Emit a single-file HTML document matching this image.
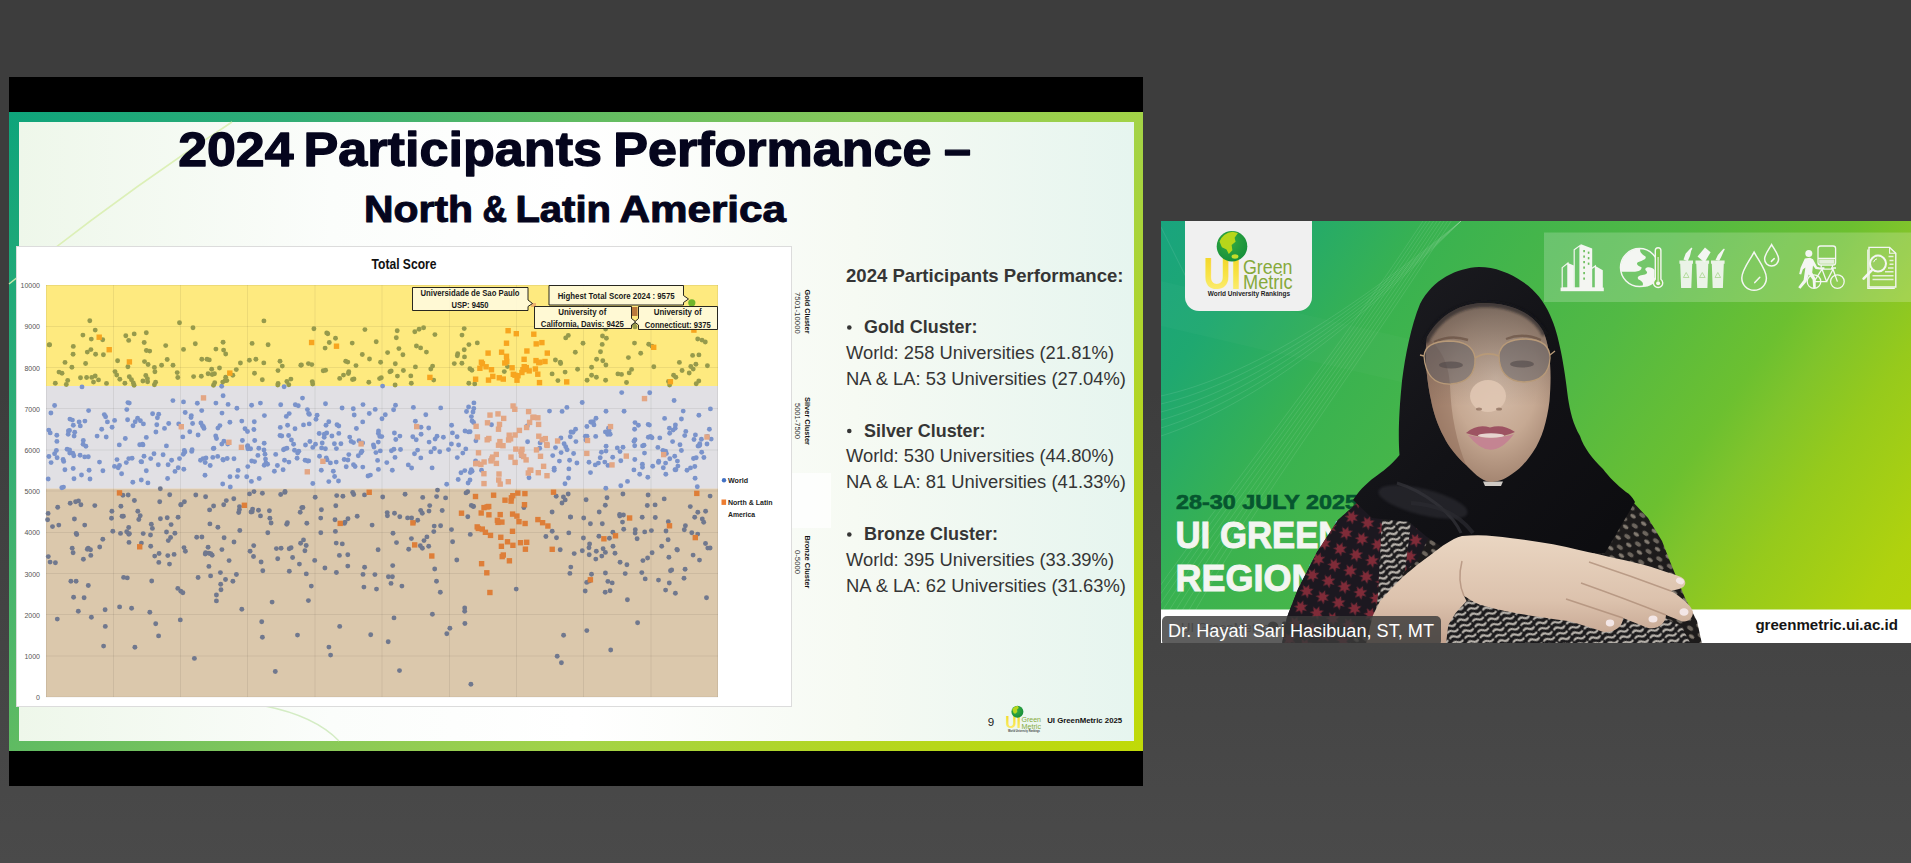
<!DOCTYPE html>
<html lang="en">
<head>
<meta charset="utf-8">
<title>UI GreenMetric 2025 - Meeting</title>
<style>
  html,body{margin:0;padding:0;}
  body{width:1911px;height:863px;overflow:hidden;position:relative;
       background:linear-gradient(to bottom,#3d3d3d 0%,#3d3d3d 45%,#4a4a4a 100%);
       font-family:"Liberation Sans",sans-serif;}
  .abs{position:absolute;}
  #share{left:9px;top:77px;width:1134px;height:709px;background:#000;}
  #frame{left:0;top:35px;width:1134px;height:639px;
         background:linear-gradient(131.7deg,#0ea47b 0%,#30ad76 16.7%,#5fbb62 33.4%,#86c85a 50%,#a3d347 66.6%,#b4d620 83.3%,#c0da08 100%);}
  #paper{left:10px;top:10px;width:1115px;height:619px;
         background:linear-gradient(to right,#eef7ea 0%,#fbfdfb 28%,#ffffff 50%,#f6faf3 75%,#e6f5ef 100%);overflow:hidden;}
  #slidesvg{left:0;top:0;}
  #video{left:1161px;top:221px;width:750px;height:422px;overflow:hidden;
         background:#3aa;}
</style>
</head>
<body>

<!-- ================= shared screen ================= -->
<div id="share" class="abs">
  <div id="frame" class="abs">
    <div id="paper" class="abs"></div>
  </div>
</div>

<!-- slide content drawn in page coordinates -->
<svg id="slidesvg" class="abs" width="1150" height="800" viewBox="0 0 1150 800" font-family="Liberation Sans, sans-serif">
  <!-- decorative swooshes -->
  <path d="M9 284 Q120 195 232 122" stroke="#d9eeb0" stroke-width="1.5" fill="none" opacity=".9"/>
  <path d="M265 706 Q315 716 339 741" stroke="#d4ecc4" stroke-width="1.4" fill="none"/>

  <!-- titles -->
  <g id="title1">
    <text x="178.2" y="166" font-size="48" font-weight="700" fill="#05051d" stroke="#05051d" stroke-width="1.3" stroke-linejoin="round" textLength="115.3" lengthAdjust="spacingAndGlyphs">2024</text>
    <text x="303.5" y="166" font-size="48" font-weight="700" fill="#05051d" stroke="#05051d" stroke-width="1.3" stroke-linejoin="round" textLength="298.5" lengthAdjust="spacingAndGlyphs">Participants</text>
    <text x="613.3" y="166" font-size="48" font-weight="700" fill="#05051d" stroke="#05051d" stroke-width="1.3" stroke-linejoin="round" textLength="318.2" lengthAdjust="spacingAndGlyphs">Performance</text>
    <text x="944.0" y="166" font-size="48" font-weight="700" fill="#05051d" stroke="#05051d" stroke-width="1.3" stroke-linejoin="round" textLength="27.0" lengthAdjust="spacingAndGlyphs">–</text>
  </g>
  <g id="title2">
    <text x="364.0" y="221.5" font-size="37" font-weight="700" fill="#05051d" stroke="#05051d" stroke-width="1.0" stroke-linejoin="round" textLength="109.0" lengthAdjust="spacingAndGlyphs">North</text>
    <text x="482.6" y="221.5" font-size="37" font-weight="700" fill="#05051d" stroke="#05051d" stroke-width="1.0" stroke-linejoin="round" textLength="24.4" lengthAdjust="spacingAndGlyphs">&amp;</text>
    <text x="515.4" y="221.5" font-size="37" font-weight="700" fill="#05051d" stroke="#05051d" stroke-width="1.0" stroke-linejoin="round" textLength="95.6" lengthAdjust="spacingAndGlyphs">Latin</text>
    <text x="619.5" y="221.5" font-size="37" font-weight="700" fill="#05051d" stroke="#05051d" stroke-width="1.0" stroke-linejoin="round" textLength="166.5" lengthAdjust="spacingAndGlyphs">America</text>
  </g>

  <!-- chart card -->
  <rect x="16.5" y="246.5" width="775" height="460" fill="#ffffff" stroke="#dcdcdc" stroke-width="1"/>
  <!-- bands -->
  <rect x="46" y="285" width="672" height="101" fill="#feea7f"/>
  <rect x="46" y="386" width="672" height="102.5" fill="#e1e0e4"/>
  <rect x="46" y="488.5" width="672" height="208.5" fill="#dbc8ac"/>
  <!-- grid -->
  <g stroke="#000" stroke-opacity=".065" stroke-width="1" fill="none">
    <path d="M46 285.5H718M46 326.5H718M46 367.5H718M46 408.5H718M46 450H718M46 491H718M46 532.5H718M46 573.5H718M46 614.5H718M46 656H718M46 697H718"/>
    <path d="M46.5 285V697M113.5 285V697M180.5 285V697M247.5 285V697M315 285V697M382 285V697M449.5 285V697M516.5 285V697M583.5 285V697M651 285V697M717.5 285V697"/>
  </g>
  <!-- y axis labels -->
  <g font-size="7" fill="#555" text-anchor="end">
    <text x="40" y="288">10000</text><text x="40" y="329">9000</text><text x="40" y="370.5">8000</text>
    <text x="40" y="411.5">7000</text><text x="40" y="453">6000</text><text x="40" y="494">5000</text>
    <text x="40" y="535">4000</text><text x="40" y="576.5">3000</text><text x="40" y="617.5">2000</text>
    <text x="40" y="659">1000</text><text x="40" y="700">0</text>
  </g>
  <text x="404" y="269" text-anchor="middle" font-size="15.4" font-weight="700" fill="#111" textLength="65" lengthAdjust="spacingAndGlyphs">Total Score</text>

  <!-- scatter -->
  <g id="scatter">
<circle cx="262.3" cy="379.7" r="2.45" fill="#969a4c"/>
<circle cx="403.4" cy="370.5" r="2.45" fill="#969a4c"/>
<circle cx="85.6" cy="363.5" r="2.45" fill="#969a4c"/>
<circle cx="71.9" cy="367.3" r="2.45" fill="#969a4c"/>
<circle cx="93.5" cy="382.1" r="2.45" fill="#969a4c"/>
<circle cx="329.3" cy="342.5" r="2.45" fill="#969a4c"/>
<circle cx="129.3" cy="376.8" r="2.45" fill="#969a4c"/>
<circle cx="464.2" cy="328.6" r="2.45" fill="#969a4c"/>
<circle cx="430.8" cy="369.0" r="2.45" fill="#969a4c"/>
<circle cx="696.2" cy="383.8" r="2.45" fill="#969a4c"/>
<circle cx="617.9" cy="373.9" r="2.45" fill="#969a4c"/>
<circle cx="142.9" cy="381.0" r="2.45" fill="#969a4c"/>
<circle cx="252.1" cy="343.4" r="2.45" fill="#969a4c"/>
<circle cx="167.2" cy="359.5" r="2.45" fill="#969a4c"/>
<circle cx="471.9" cy="370.2" r="2.45" fill="#969a4c"/>
<circle cx="411.3" cy="383.2" r="2.45" fill="#969a4c"/>
<circle cx="86.6" cy="377.5" r="2.45" fill="#969a4c"/>
<circle cx="255.9" cy="359.2" r="2.45" fill="#969a4c"/>
<circle cx="348.4" cy="373.5" r="2.45" fill="#969a4c"/>
<circle cx="575.3" cy="352.2" r="2.45" fill="#969a4c"/>
<circle cx="209.3" cy="359.9" r="2.45" fill="#969a4c"/>
<circle cx="396.3" cy="337.8" r="2.45" fill="#969a4c"/>
<circle cx="698.8" cy="381.0" r="2.45" fill="#969a4c"/>
<circle cx="325.1" cy="348.1" r="2.45" fill="#969a4c"/>
<circle cx="148.1" cy="364.5" r="2.45" fill="#969a4c"/>
<circle cx="73.1" cy="354.2" r="2.45" fill="#969a4c"/>
<circle cx="555.4" cy="360.0" r="2.45" fill="#969a4c"/>
<circle cx="629.2" cy="372.9" r="2.45" fill="#969a4c"/>
<circle cx="432.6" cy="366.1" r="2.45" fill="#969a4c"/>
<circle cx="605.6" cy="329.1" r="2.45" fill="#969a4c"/>
<circle cx="362.3" cy="354.5" r="2.45" fill="#969a4c"/>
<circle cx="87.3" cy="352.1" r="2.45" fill="#969a4c"/>
<circle cx="477.3" cy="342.9" r="2.45" fill="#969a4c"/>
<circle cx="236.3" cy="369.6" r="2.45" fill="#969a4c"/>
<circle cx="354.0" cy="379.0" r="2.45" fill="#969a4c"/>
<circle cx="124.9" cy="383.3" r="2.45" fill="#969a4c"/>
<circle cx="557.9" cy="380.6" r="2.45" fill="#969a4c"/>
<circle cx="211.7" cy="369.3" r="2.45" fill="#969a4c"/>
<circle cx="626.5" cy="382.5" r="2.45" fill="#969a4c"/>
<circle cx="345.7" cy="361.3" r="2.45" fill="#969a4c"/>
<circle cx="634.5" cy="343.1" r="2.45" fill="#969a4c"/>
<circle cx="621.5" cy="374.4" r="2.45" fill="#969a4c"/>
<circle cx="323.2" cy="370.8" r="2.45" fill="#969a4c"/>
<circle cx="635.0" cy="326.9" r="2.45" fill="#969a4c"/>
<circle cx="147.4" cy="378.7" r="2.45" fill="#969a4c"/>
<circle cx="201.3" cy="376.3" r="2.45" fill="#969a4c"/>
<circle cx="369.5" cy="359.0" r="2.45" fill="#969a4c"/>
<circle cx="221.7" cy="386.2" r="2.45" fill="#7a93cb"/>
<circle cx="325.6" cy="370.3" r="2.45" fill="#969a4c"/>
<circle cx="423.6" cy="327.7" r="2.45" fill="#969a4c"/>
<circle cx="457.7" cy="353.7" r="2.45" fill="#969a4c"/>
<circle cx="82.9" cy="335.1" r="2.45" fill="#969a4c"/>
<circle cx="565.7" cy="337.9" r="2.45" fill="#969a4c"/>
<circle cx="577.6" cy="369.3" r="2.45" fill="#969a4c"/>
<circle cx="312.3" cy="381.6" r="2.45" fill="#969a4c"/>
<circle cx="468.8" cy="383.2" r="2.45" fill="#969a4c"/>
<circle cx="91.8" cy="377.4" r="2.45" fill="#969a4c"/>
<circle cx="154.9" cy="371.7" r="2.45" fill="#969a4c"/>
<circle cx="82.0" cy="386.9" r="2.45" fill="#7a93cb"/>
<circle cx="147.6" cy="381.7" r="2.45" fill="#969a4c"/>
<circle cx="288.8" cy="384.7" r="2.45" fill="#969a4c"/>
<circle cx="628.4" cy="357.6" r="2.45" fill="#969a4c"/>
<circle cx="145.8" cy="375.5" r="2.45" fill="#969a4c"/>
<circle cx="278.0" cy="370.6" r="2.45" fill="#969a4c"/>
<circle cx="128.7" cy="340.4" r="2.45" fill="#969a4c"/>
<circle cx="707.4" cy="365.7" r="2.45" fill="#969a4c"/>
<circle cx="368.8" cy="382.3" r="2.45" fill="#969a4c"/>
<circle cx="115.0" cy="371.6" r="2.45" fill="#969a4c"/>
<circle cx="223.1" cy="342.3" r="2.45" fill="#969a4c"/>
<circle cx="154.4" cy="384.8" r="2.45" fill="#969a4c"/>
<circle cx="679.4" cy="362.4" r="2.45" fill="#969a4c"/>
<circle cx="144.5" cy="361.6" r="2.45" fill="#969a4c"/>
<circle cx="65.0" cy="362.4" r="2.45" fill="#969a4c"/>
<circle cx="697.7" cy="339.0" r="2.45" fill="#969a4c"/>
<circle cx="290.9" cy="379.1" r="2.45" fill="#969a4c"/>
<circle cx="560.3" cy="362.2" r="2.45" fill="#969a4c"/>
<circle cx="565.1" cy="372.1" r="2.45" fill="#969a4c"/>
<circle cx="195.3" cy="343.8" r="2.45" fill="#969a4c"/>
<circle cx="702.0" cy="340.1" r="2.45" fill="#969a4c"/>
<circle cx="583.0" cy="343.2" r="2.45" fill="#969a4c"/>
<circle cx="391.2" cy="371.0" r="2.45" fill="#969a4c"/>
<circle cx="66.3" cy="384.5" r="2.45" fill="#969a4c"/>
<circle cx="232.8" cy="375.2" r="2.45" fill="#969a4c"/>
<circle cx="507.5" cy="366.6" r="2.45" fill="#969a4c"/>
<circle cx="670.1" cy="319.8" r="2.45" fill="#969a4c"/>
<circle cx="682.1" cy="370.5" r="2.45" fill="#969a4c"/>
<circle cx="193.6" cy="376.6" r="2.45" fill="#969a4c"/>
<circle cx="177.8" cy="377.5" r="2.45" fill="#969a4c"/>
<circle cx="462.0" cy="335.1" r="2.45" fill="#969a4c"/>
<circle cx="605.9" cy="365.0" r="2.45" fill="#969a4c"/>
<circle cx="103.4" cy="354.7" r="2.45" fill="#969a4c"/>
<circle cx="652.0" cy="346.2" r="2.45" fill="#969a4c"/>
<circle cx="165.7" cy="345.6" r="2.45" fill="#969a4c"/>
<circle cx="268.1" cy="344.7" r="2.45" fill="#969a4c"/>
<circle cx="693.2" cy="369.1" r="2.45" fill="#969a4c"/>
<circle cx="313.9" cy="328.8" r="2.45" fill="#969a4c"/>
<circle cx="131.5" cy="379.7" r="2.45" fill="#969a4c"/>
<circle cx="648.7" cy="344.2" r="2.45" fill="#969a4c"/>
<circle cx="144.2" cy="342.5" r="2.45" fill="#969a4c"/>
<circle cx="698.9" cy="354.9" r="2.45" fill="#969a4c"/>
<circle cx="280.0" cy="361.3" r="2.45" fill="#969a4c"/>
<circle cx="134.1" cy="385.3" r="2.45" fill="#969a4c"/>
<circle cx="692.6" cy="355.4" r="2.45" fill="#969a4c"/>
<circle cx="397.2" cy="330.8" r="2.45" fill="#969a4c"/>
<circle cx="335.5" cy="338.2" r="2.45" fill="#969a4c"/>
<circle cx="596.4" cy="377.3" r="2.45" fill="#969a4c"/>
<circle cx="214.5" cy="373.8" r="2.45" fill="#969a4c"/>
<circle cx="207.0" cy="359.2" r="2.45" fill="#969a4c"/>
<circle cx="219.5" cy="368.0" r="2.45" fill="#969a4c"/>
<circle cx="134.2" cy="333.9" r="2.45" fill="#969a4c"/>
<circle cx="282.3" cy="366.1" r="2.45" fill="#969a4c"/>
<circle cx="434.9" cy="334.6" r="2.45" fill="#969a4c"/>
<circle cx="326.7" cy="332.9" r="2.45" fill="#969a4c"/>
<circle cx="380.6" cy="362.2" r="2.45" fill="#969a4c"/>
<circle cx="395.1" cy="385.0" r="2.45" fill="#969a4c"/>
<circle cx="339.7" cy="378.4" r="2.45" fill="#969a4c"/>
<circle cx="49.6" cy="344.8" r="2.45" fill="#969a4c"/>
<circle cx="161.6" cy="365.3" r="2.45" fill="#969a4c"/>
<circle cx="263.8" cy="362.9" r="2.45" fill="#969a4c"/>
<circle cx="416.4" cy="346.0" r="2.45" fill="#969a4c"/>
<circle cx="117.6" cy="360.7" r="2.45" fill="#969a4c"/>
<circle cx="212.2" cy="374.5" r="2.45" fill="#969a4c"/>
<circle cx="560.6" cy="363.5" r="2.45" fill="#969a4c"/>
<circle cx="420.6" cy="347.9" r="2.45" fill="#969a4c"/>
<circle cx="653.8" cy="366.8" r="2.45" fill="#969a4c"/>
<circle cx="454.3" cy="363.6" r="2.45" fill="#969a4c"/>
<circle cx="387.6" cy="352.6" r="2.45" fill="#969a4c"/>
<circle cx="347.8" cy="362.1" r="2.45" fill="#969a4c"/>
<circle cx="364.9" cy="329.6" r="2.45" fill="#969a4c"/>
<circle cx="673.6" cy="375.2" r="2.45" fill="#969a4c"/>
<circle cx="419.1" cy="329.3" r="2.45" fill="#969a4c"/>
<circle cx="605.6" cy="380.3" r="2.45" fill="#969a4c"/>
<circle cx="127.9" cy="366.8" r="2.45" fill="#969a4c"/>
<circle cx="95.2" cy="376.0" r="2.45" fill="#969a4c"/>
<circle cx="95.6" cy="354.2" r="2.45" fill="#969a4c"/>
<circle cx="568.3" cy="335.4" r="2.45" fill="#969a4c"/>
<circle cx="149.7" cy="351.1" r="2.45" fill="#969a4c"/>
<circle cx="634.1" cy="325.1" r="2.45" fill="#969a4c"/>
<circle cx="193.0" cy="327.8" r="2.45" fill="#969a4c"/>
<circle cx="311.8" cy="364.6" r="2.45" fill="#969a4c"/>
<circle cx="705.3" cy="342.0" r="2.45" fill="#969a4c"/>
<circle cx="154.4" cy="367.4" r="2.45" fill="#969a4c"/>
<circle cx="389.9" cy="371.7" r="2.45" fill="#969a4c"/>
<circle cx="177.2" cy="372.6" r="2.45" fill="#969a4c"/>
<circle cx="415.4" cy="366.9" r="2.45" fill="#969a4c"/>
<circle cx="59.0" cy="372.1" r="2.45" fill="#969a4c"/>
<circle cx="461.9" cy="363.3" r="2.45" fill="#969a4c"/>
<circle cx="89.8" cy="320.8" r="2.45" fill="#969a4c"/>
<circle cx="571.3" cy="324.2" r="2.45" fill="#969a4c"/>
<circle cx="116.7" cy="375.0" r="2.45" fill="#969a4c"/>
<circle cx="73.3" cy="346.4" r="2.45" fill="#969a4c"/>
<circle cx="226.8" cy="380.6" r="2.45" fill="#969a4c"/>
<circle cx="327.8" cy="333.7" r="2.45" fill="#969a4c"/>
<circle cx="591.6" cy="375.3" r="2.45" fill="#969a4c"/>
<circle cx="146.3" cy="332.7" r="2.45" fill="#969a4c"/>
<circle cx="426.4" cy="352.1" r="2.45" fill="#969a4c"/>
<circle cx="106.5" cy="383.4" r="2.45" fill="#969a4c"/>
<circle cx="95.2" cy="330.1" r="2.45" fill="#969a4c"/>
<circle cx="468.9" cy="344.6" r="2.45" fill="#969a4c"/>
<circle cx="102.7" cy="339.7" r="2.45" fill="#969a4c"/>
<circle cx="91.3" cy="339.1" r="2.45" fill="#969a4c"/>
<circle cx="348.8" cy="371.7" r="2.45" fill="#969a4c"/>
<circle cx="414.8" cy="331.7" r="2.45" fill="#969a4c"/>
<circle cx="225.1" cy="380.6" r="2.45" fill="#969a4c"/>
<circle cx="397.4" cy="376.1" r="2.45" fill="#969a4c"/>
<circle cx="119.8" cy="379.3" r="2.45" fill="#969a4c"/>
<circle cx="80.5" cy="377.7" r="2.45" fill="#969a4c"/>
<circle cx="254.5" cy="373.2" r="2.45" fill="#969a4c"/>
<circle cx="552.1" cy="373.9" r="2.45" fill="#969a4c"/>
<circle cx="379.6" cy="378.6" r="2.45" fill="#969a4c"/>
<circle cx="277.8" cy="385.1" r="2.45" fill="#969a4c"/>
<circle cx="213.5" cy="385.2" r="2.45" fill="#969a4c"/>
<circle cx="173.0" cy="365.2" r="2.45" fill="#969a4c"/>
<circle cx="668.5" cy="381.5" r="2.45" fill="#969a4c"/>
<circle cx="591.6" cy="367.3" r="2.45" fill="#969a4c"/>
<circle cx="376.2" cy="341.8" r="2.45" fill="#969a4c"/>
<circle cx="308.4" cy="363.6" r="2.45" fill="#969a4c"/>
<circle cx="504.3" cy="371.6" r="2.45" fill="#969a4c"/>
<circle cx="600.5" cy="351.7" r="2.45" fill="#969a4c"/>
<circle cx="469.9" cy="368.7" r="2.45" fill="#969a4c"/>
<circle cx="278.1" cy="383.5" r="2.45" fill="#969a4c"/>
<circle cx="133.3" cy="382.9" r="2.45" fill="#969a4c"/>
<circle cx="155.6" cy="382.3" r="2.45" fill="#969a4c"/>
<circle cx="606.4" cy="338.3" r="2.45" fill="#969a4c"/>
<circle cx="208.1" cy="373.8" r="2.45" fill="#969a4c"/>
<circle cx="352.5" cy="379.5" r="2.45" fill="#969a4c"/>
<circle cx="343.5" cy="375.1" r="2.45" fill="#969a4c"/>
<circle cx="686.6" cy="324.0" r="2.45" fill="#969a4c"/>
<circle cx="410.8" cy="375.9" r="2.45" fill="#969a4c"/>
<circle cx="689.2" cy="373.0" r="2.45" fill="#969a4c"/>
<circle cx="284.1" cy="386.7" r="2.45" fill="#7a93cb"/>
<circle cx="300.8" cy="365.2" r="2.45" fill="#969a4c"/>
<circle cx="381.3" cy="377.7" r="2.45" fill="#969a4c"/>
<circle cx="382.6" cy="386.1" r="2.45" fill="#7a93cb"/>
<circle cx="222.7" cy="382.1" r="2.45" fill="#969a4c"/>
<circle cx="312.7" cy="384.0" r="2.45" fill="#969a4c"/>
<circle cx="62.0" cy="373.3" r="2.45" fill="#969a4c"/>
<circle cx="201.8" cy="359.2" r="2.45" fill="#969a4c"/>
<circle cx="398.9" cy="348.6" r="2.45" fill="#969a4c"/>
<circle cx="631.6" cy="369.4" r="2.45" fill="#969a4c"/>
<circle cx="263.9" cy="320.9" r="2.45" fill="#969a4c"/>
<circle cx="146.4" cy="350.5" r="2.45" fill="#969a4c"/>
<circle cx="474.7" cy="383.9" r="2.45" fill="#969a4c"/>
<circle cx="602.5" cy="336.0" r="2.45" fill="#969a4c"/>
<circle cx="464.2" cy="349.8" r="2.45" fill="#969a4c"/>
<circle cx="587.1" cy="380.2" r="2.45" fill="#969a4c"/>
<circle cx="395.3" cy="363.7" r="2.45" fill="#969a4c"/>
<circle cx="602.2" cy="344.4" r="2.45" fill="#969a4c"/>
<circle cx="596.6" cy="359.3" r="2.45" fill="#969a4c"/>
<circle cx="640.7" cy="353.3" r="2.45" fill="#969a4c"/>
<circle cx="67.7" cy="380.4" r="2.45" fill="#969a4c"/>
<circle cx="286.9" cy="381.5" r="2.45" fill="#969a4c"/>
<circle cx="602.8" cy="360.8" r="2.45" fill="#969a4c"/>
<circle cx="464.5" cy="356.9" r="2.45" fill="#969a4c"/>
<circle cx="49.2" cy="344.9" r="2.45" fill="#969a4c"/>
<circle cx="402.9" cy="354.8" r="2.45" fill="#969a4c"/>
<circle cx="90.9" cy="349.6" r="2.45" fill="#969a4c"/>
<circle cx="214.7" cy="382.7" r="2.45" fill="#969a4c"/>
<circle cx="223.6" cy="350.1" r="2.45" fill="#969a4c"/>
<circle cx="183.5" cy="349.4" r="2.45" fill="#969a4c"/>
<circle cx="695.9" cy="364.2" r="2.45" fill="#969a4c"/>
<circle cx="301.4" cy="365.0" r="2.45" fill="#969a4c"/>
<circle cx="457.3" cy="355.8" r="2.45" fill="#969a4c"/>
<circle cx="98.5" cy="379.9" r="2.45" fill="#969a4c"/>
<circle cx="215.9" cy="349.1" r="2.45" fill="#969a4c"/>
<circle cx="249.4" cy="360.3" r="2.45" fill="#969a4c"/>
<circle cx="55.3" cy="383.2" r="2.45" fill="#969a4c"/>
<circle cx="225.7" cy="354.0" r="2.45" fill="#969a4c"/>
<circle cx="240.4" cy="363.0" r="2.45" fill="#969a4c"/>
<circle cx="356.0" cy="365.6" r="2.45" fill="#969a4c"/>
<circle cx="125.8" cy="335.8" r="2.45" fill="#969a4c"/>
<circle cx="179.5" cy="322.7" r="2.45" fill="#969a4c"/>
<circle cx="669.6" cy="385.1" r="2.45" fill="#969a4c"/>
<circle cx="352.2" cy="343.1" r="2.45" fill="#969a4c"/>
<circle cx="690.8" cy="366.5" r="2.45" fill="#969a4c"/>
<circle cx="225.7" cy="377.3" r="2.45" fill="#969a4c"/>
<circle cx="675.8" cy="377.3" r="2.45" fill="#969a4c"/>
<circle cx="433.7" cy="380.1" r="2.45" fill="#969a4c"/>
<circle cx="395.5" cy="405.3" r="2.45" fill="#7a93cb"/>
<circle cx="135.2" cy="421.8" r="2.45" fill="#7a93cb"/>
<circle cx="385.3" cy="414.8" r="2.45" fill="#7a93cb"/>
<circle cx="644.0" cy="445.2" r="2.45" fill="#7a93cb"/>
<circle cx="63.5" cy="487.1" r="2.45" fill="#7a93cb"/>
<circle cx="374.0" cy="447.1" r="2.45" fill="#7a93cb"/>
<circle cx="247.8" cy="466.6" r="2.45" fill="#7a93cb"/>
<circle cx="275.7" cy="454.4" r="2.45" fill="#7a93cb"/>
<circle cx="605.8" cy="488.3" r="2.45" fill="#7a93cb"/>
<circle cx="126.8" cy="409.6" r="2.45" fill="#7a93cb"/>
<circle cx="521.2" cy="455.9" r="2.45" fill="#7a93cb"/>
<circle cx="294.5" cy="450.2" r="2.45" fill="#7a93cb"/>
<circle cx="711.2" cy="439.1" r="2.45" fill="#7a93cb"/>
<circle cx="286.9" cy="448.3" r="2.45" fill="#7a93cb"/>
<circle cx="230.0" cy="476.7" r="2.45" fill="#7a93cb"/>
<circle cx="114.6" cy="420.4" r="2.45" fill="#7a93cb"/>
<circle cx="236.9" cy="408.2" r="2.45" fill="#7a93cb"/>
<circle cx="212.8" cy="457.4" r="2.45" fill="#7a93cb"/>
<circle cx="386.8" cy="462.6" r="2.45" fill="#7a93cb"/>
<circle cx="295.3" cy="404.7" r="2.45" fill="#7a93cb"/>
<circle cx="635.0" cy="422.6" r="2.45" fill="#7a93cb"/>
<circle cx="466.5" cy="411.5" r="2.45" fill="#7a93cb"/>
<circle cx="672.6" cy="441.6" r="2.45" fill="#7a93cb"/>
<circle cx="237.3" cy="476.6" r="2.45" fill="#7a93cb"/>
<circle cx="663.3" cy="467.8" r="2.45" fill="#7a93cb"/>
<circle cx="361.0" cy="452.8" r="2.45" fill="#7a93cb"/>
<circle cx="245.0" cy="428.8" r="2.45" fill="#7a93cb"/>
<circle cx="696.2" cy="457.8" r="2.45" fill="#7a93cb"/>
<circle cx="417.6" cy="450.1" r="2.45" fill="#7a93cb"/>
<circle cx="158.3" cy="464.8" r="2.45" fill="#7a93cb"/>
<circle cx="185.2" cy="412.5" r="2.45" fill="#7a93cb"/>
<circle cx="377.6" cy="460.4" r="2.45" fill="#7a93cb"/>
<circle cx="649.7" cy="392.7" r="2.45" fill="#7a93cb"/>
<circle cx="346.2" cy="466.7" r="2.45" fill="#7a93cb"/>
<circle cx="175.0" cy="471.4" r="2.45" fill="#7a93cb"/>
<circle cx="274.4" cy="471.3" r="2.45" fill="#7a93cb"/>
<circle cx="206.0" cy="457.9" r="2.45" fill="#7a93cb"/>
<circle cx="425.8" cy="414.8" r="2.45" fill="#7a93cb"/>
<circle cx="322.2" cy="443.0" r="2.45" fill="#7a93cb"/>
<circle cx="297.6" cy="453.1" r="2.45" fill="#7a93cb"/>
<circle cx="88.3" cy="456.7" r="2.45" fill="#7a93cb"/>
<circle cx="690.5" cy="467.9" r="2.45" fill="#7a93cb"/>
<circle cx="381.8" cy="436.6" r="2.45" fill="#7a93cb"/>
<circle cx="620.8" cy="460.7" r="2.45" fill="#7a93cb"/>
<circle cx="227.2" cy="458.5" r="2.45" fill="#7a93cb"/>
<circle cx="312.8" cy="447.4" r="2.45" fill="#7a93cb"/>
<circle cx="681.4" cy="419.0" r="2.45" fill="#7a93cb"/>
<circle cx="627.5" cy="481.4" r="2.45" fill="#7a93cb"/>
<circle cx="68.4" cy="431.0" r="2.45" fill="#7a93cb"/>
<circle cx="642.6" cy="445.9" r="2.45" fill="#7a93cb"/>
<circle cx="437.5" cy="490.1" r="2.45" fill="#70788e"/>
<circle cx="307.4" cy="409.6" r="2.45" fill="#7a93cb"/>
<circle cx="596.0" cy="418.3" r="2.45" fill="#7a93cb"/>
<circle cx="693.5" cy="458.5" r="2.45" fill="#7a93cb"/>
<circle cx="119.5" cy="465.4" r="2.45" fill="#7a93cb"/>
<circle cx="394.4" cy="433.0" r="2.45" fill="#7a93cb"/>
<circle cx="673.1" cy="430.1" r="2.45" fill="#7a93cb"/>
<circle cx="351.1" cy="441.4" r="2.45" fill="#7a93cb"/>
<circle cx="73.3" cy="425.2" r="2.45" fill="#7a93cb"/>
<circle cx="201.7" cy="410.6" r="2.45" fill="#7a93cb"/>
<circle cx="132.1" cy="458.3" r="2.45" fill="#7a93cb"/>
<circle cx="470.1" cy="431.8" r="2.45" fill="#7a93cb"/>
<circle cx="121.6" cy="473.7" r="2.45" fill="#7a93cb"/>
<circle cx="395.8" cy="439.5" r="2.45" fill="#7a93cb"/>
<circle cx="305.1" cy="460.2" r="2.45" fill="#7a93cb"/>
<circle cx="446.7" cy="484.3" r="2.45" fill="#7a93cb"/>
<circle cx="247.5" cy="446.6" r="2.45" fill="#7a93cb"/>
<circle cx="684.7" cy="435.6" r="2.45" fill="#7a93cb"/>
<circle cx="634.7" cy="445.8" r="2.45" fill="#7a93cb"/>
<circle cx="203.1" cy="458.6" r="2.45" fill="#7a93cb"/>
<circle cx="685.8" cy="431.4" r="2.45" fill="#7a93cb"/>
<circle cx="251.4" cy="481.4" r="2.45" fill="#7a93cb"/>
<circle cx="378.4" cy="433.5" r="2.45" fill="#7a93cb"/>
<circle cx="326.3" cy="458.0" r="2.45" fill="#7a93cb"/>
<circle cx="490.8" cy="460.0" r="2.45" fill="#7a93cb"/>
<circle cx="69.7" cy="453.1" r="2.45" fill="#7a93cb"/>
<circle cx="326.7" cy="433.0" r="2.45" fill="#7a93cb"/>
<circle cx="178.7" cy="423.9" r="2.45" fill="#7a93cb"/>
<circle cx="183.5" cy="401.9" r="2.45" fill="#7a93cb"/>
<circle cx="254.3" cy="421.8" r="2.45" fill="#7a93cb"/>
<circle cx="200.5" cy="460.3" r="2.45" fill="#7a93cb"/>
<circle cx="552.7" cy="455.6" r="2.45" fill="#7a93cb"/>
<circle cx="680.0" cy="444.7" r="2.45" fill="#7a93cb"/>
<circle cx="171.6" cy="460.2" r="2.45" fill="#7a93cb"/>
<circle cx="324.3" cy="434.2" r="2.45" fill="#7a93cb"/>
<circle cx="677.9" cy="466.1" r="2.45" fill="#7a93cb"/>
<circle cx="308.7" cy="460.9" r="2.45" fill="#7a93cb"/>
<circle cx="694.8" cy="466.5" r="2.45" fill="#7a93cb"/>
<circle cx="81.5" cy="475.0" r="2.45" fill="#7a93cb"/>
<circle cx="308.6" cy="413.5" r="2.45" fill="#7a93cb"/>
<circle cx="634.6" cy="429.2" r="2.45" fill="#7a93cb"/>
<circle cx="710.4" cy="408.9" r="2.45" fill="#7a93cb"/>
<circle cx="265.9" cy="462.9" r="2.45" fill="#7a93cb"/>
<circle cx="669.4" cy="428.2" r="2.45" fill="#7a93cb"/>
<circle cx="68.2" cy="434.2" r="2.45" fill="#7a93cb"/>
<circle cx="298.8" cy="451.2" r="2.45" fill="#7a93cb"/>
<circle cx="267.6" cy="464.2" r="2.45" fill="#7a93cb"/>
<circle cx="48.9" cy="456.5" r="2.45" fill="#7a93cb"/>
<circle cx="280.7" cy="404.8" r="2.45" fill="#7a93cb"/>
<circle cx="129.3" cy="403.1" r="2.45" fill="#7a93cb"/>
<circle cx="184.9" cy="452.1" r="2.45" fill="#7a93cb"/>
<circle cx="593.3" cy="421.7" r="2.45" fill="#7a93cb"/>
<circle cx="334.6" cy="476.5" r="2.45" fill="#7a93cb"/>
<circle cx="361.9" cy="451.2" r="2.45" fill="#7a93cb"/>
<circle cx="658.5" cy="462.4" r="2.45" fill="#7a93cb"/>
<circle cx="289.2" cy="413.6" r="2.45" fill="#7a93cb"/>
<circle cx="67.1" cy="449.2" r="2.45" fill="#7a93cb"/>
<circle cx="586.9" cy="426.5" r="2.45" fill="#7a93cb"/>
<circle cx="74.0" cy="478.8" r="2.45" fill="#7a93cb"/>
<circle cx="88.6" cy="410.6" r="2.45" fill="#7a93cb"/>
<circle cx="217.9" cy="428.1" r="2.45" fill="#7a93cb"/>
<circle cx="644.5" cy="453.1" r="2.45" fill="#7a93cb"/>
<circle cx="228.1" cy="404.4" r="2.45" fill="#7a93cb"/>
<circle cx="457.3" cy="457.6" r="2.45" fill="#7a93cb"/>
<circle cx="230.3" cy="487.0" r="2.45" fill="#7a93cb"/>
<circle cx="549.5" cy="411.1" r="2.45" fill="#7a93cb"/>
<circle cx="468.6" cy="407.0" r="2.45" fill="#7a93cb"/>
<circle cx="63.1" cy="459.5" r="2.45" fill="#7a93cb"/>
<circle cx="363.0" cy="404.6" r="2.45" fill="#7a93cb"/>
<circle cx="681.4" cy="450.5" r="2.45" fill="#7a93cb"/>
<circle cx="213.9" cy="448.2" r="2.45" fill="#7a93cb"/>
<circle cx="375.2" cy="409.4" r="2.45" fill="#7a93cb"/>
<circle cx="168.7" cy="423.5" r="2.45" fill="#7a93cb"/>
<circle cx="560.9" cy="438.0" r="2.45" fill="#7a93cb"/>
<circle cx="265.0" cy="454.2" r="2.45" fill="#7a93cb"/>
<circle cx="287.6" cy="425.2" r="2.45" fill="#7a93cb"/>
<circle cx="99.5" cy="462.1" r="2.45" fill="#7a93cb"/>
<circle cx="90.0" cy="479.0" r="2.45" fill="#7a93cb"/>
<circle cx="414.5" cy="453.8" r="2.45" fill="#7a93cb"/>
<circle cx="698.9" cy="415.2" r="2.45" fill="#7a93cb"/>
<circle cx="703.9" cy="457.5" r="2.45" fill="#7a93cb"/>
<circle cx="102.9" cy="470.8" r="2.45" fill="#7a93cb"/>
<circle cx="378.5" cy="431.0" r="2.45" fill="#7a93cb"/>
<circle cx="344.2" cy="459.5" r="2.45" fill="#7a93cb"/>
<circle cx="324.2" cy="437.2" r="2.45" fill="#7a93cb"/>
<circle cx="610.2" cy="434.2" r="2.45" fill="#7a93cb"/>
<circle cx="127.6" cy="419.8" r="2.45" fill="#7a93cb"/>
<circle cx="242.4" cy="440.5" r="2.45" fill="#7a93cb"/>
<circle cx="295.0" cy="428.8" r="2.45" fill="#7a93cb"/>
<circle cx="179.5" cy="458.6" r="2.45" fill="#7a93cb"/>
<circle cx="210.2" cy="465.5" r="2.45" fill="#7a93cb"/>
<circle cx="635.0" cy="439.8" r="2.45" fill="#7a93cb"/>
<circle cx="264.0" cy="450.0" r="2.45" fill="#7a93cb"/>
<circle cx="707.0" cy="444.0" r="2.45" fill="#7a93cb"/>
<circle cx="200.9" cy="422.9" r="2.45" fill="#7a93cb"/>
<circle cx="481.5" cy="470.2" r="2.45" fill="#7a93cb"/>
<circle cx="362.7" cy="421.9" r="2.45" fill="#7a93cb"/>
<circle cx="606.0" cy="411.3" r="2.45" fill="#7a93cb"/>
<circle cx="73.8" cy="455.7" r="2.45" fill="#7a93cb"/>
<circle cx="126.3" cy="462.6" r="2.45" fill="#7a93cb"/>
<circle cx="694.0" cy="439.5" r="2.45" fill="#7a93cb"/>
<circle cx="665.6" cy="451.3" r="2.45" fill="#7a93cb"/>
<circle cx="623.0" cy="447.2" r="2.45" fill="#7a93cb"/>
<circle cx="219.9" cy="425.6" r="2.45" fill="#7a93cb"/>
<circle cx="675.9" cy="469.8" r="2.45" fill="#7a93cb"/>
<circle cx="443.4" cy="437.2" r="2.45" fill="#7a93cb"/>
<circle cx="191.7" cy="451.4" r="2.45" fill="#7a93cb"/>
<circle cx="141.0" cy="461.6" r="2.45" fill="#7a93cb"/>
<circle cx="216.5" cy="438.5" r="2.45" fill="#7a93cb"/>
<circle cx="54.6" cy="453.7" r="2.45" fill="#7a93cb"/>
<circle cx="254.6" cy="461.6" r="2.45" fill="#7a93cb"/>
<circle cx="575.9" cy="441.6" r="2.45" fill="#7a93cb"/>
<circle cx="89.1" cy="470.3" r="2.45" fill="#7a93cb"/>
<circle cx="309.9" cy="441.5" r="2.45" fill="#7a93cb"/>
<circle cx="472.1" cy="471.3" r="2.45" fill="#7a93cb"/>
<circle cx="155.9" cy="432.0" r="2.45" fill="#7a93cb"/>
<circle cx="319.5" cy="456.3" r="2.45" fill="#7a93cb"/>
<circle cx="251.6" cy="405.3" r="2.45" fill="#7a93cb"/>
<circle cx="254.7" cy="440.5" r="2.45" fill="#7a93cb"/>
<circle cx="284.5" cy="448.9" r="2.45" fill="#7a93cb"/>
<circle cx="621.7" cy="392.6" r="2.45" fill="#7a93cb"/>
<circle cx="288.9" cy="462.1" r="2.45" fill="#7a93cb"/>
<circle cx="50.9" cy="413.0" r="2.45" fill="#7a93cb"/>
<circle cx="328.8" cy="421.8" r="2.45" fill="#7a93cb"/>
<circle cx="317.1" cy="415.3" r="2.45" fill="#7a93cb"/>
<circle cx="353.5" cy="464.7" r="2.45" fill="#7a93cb"/>
<circle cx="56.9" cy="441.4" r="2.45" fill="#7a93cb"/>
<circle cx="473.0" cy="412.0" r="2.45" fill="#7a93cb"/>
<circle cx="106.2" cy="437.0" r="2.45" fill="#7a93cb"/>
<circle cx="293.6" cy="444.2" r="2.45" fill="#7a93cb"/>
<circle cx="144.0" cy="456.3" r="2.45" fill="#7a93cb"/>
<circle cx="393.6" cy="409.8" r="2.45" fill="#7a93cb"/>
<circle cx="119.3" cy="444.9" r="2.45" fill="#7a93cb"/>
<circle cx="582.2" cy="402.5" r="2.45" fill="#7a93cb"/>
<circle cx="178.2" cy="467.8" r="2.45" fill="#7a93cb"/>
<circle cx="674.1" cy="400.5" r="2.45" fill="#7a93cb"/>
<circle cx="368.0" cy="476.0" r="2.45" fill="#7a93cb"/>
<circle cx="662.9" cy="450.4" r="2.45" fill="#7a93cb"/>
<circle cx="648.3" cy="437.2" r="2.45" fill="#7a93cb"/>
<circle cx="595.3" cy="464.9" r="2.45" fill="#7a93cb"/>
<circle cx="569.6" cy="460.3" r="2.45" fill="#7a93cb"/>
<circle cx="316.0" cy="419.3" r="2.45" fill="#7a93cb"/>
<circle cx="598.4" cy="463.1" r="2.45" fill="#7a93cb"/>
<circle cx="192.1" cy="449.8" r="2.45" fill="#7a93cb"/>
<circle cx="391.4" cy="450.7" r="2.45" fill="#7a93cb"/>
<circle cx="128.8" cy="458.6" r="2.45" fill="#7a93cb"/>
<circle cx="529.0" cy="477.8" r="2.45" fill="#7a93cb"/>
<circle cx="421.0" cy="427.3" r="2.45" fill="#7a93cb"/>
<circle cx="72.4" cy="420.1" r="2.45" fill="#7a93cb"/>
<circle cx="125.3" cy="438.5" r="2.45" fill="#7a93cb"/>
<circle cx="412.8" cy="436.7" r="2.45" fill="#7a93cb"/>
<circle cx="250.6" cy="448.8" r="2.45" fill="#7a93cb"/>
<circle cx="434.4" cy="448.5" r="2.45" fill="#7a93cb"/>
<circle cx="338.5" cy="481.0" r="2.45" fill="#7a93cb"/>
<circle cx="458.6" cy="445.0" r="2.45" fill="#7a93cb"/>
<circle cx="203.4" cy="426.8" r="2.45" fill="#7a93cb"/>
<circle cx="565.7" cy="446.7" r="2.45" fill="#7a93cb"/>
<circle cx="166.4" cy="445.9" r="2.45" fill="#7a93cb"/>
<circle cx="118.2" cy="467.7" r="2.45" fill="#7a93cb"/>
<circle cx="333.3" cy="471.3" r="2.45" fill="#7a93cb"/>
<circle cx="340.9" cy="443.8" r="2.45" fill="#7a93cb"/>
<circle cx="74.1" cy="436.1" r="2.45" fill="#7a93cb"/>
<circle cx="101.7" cy="429.2" r="2.45" fill="#7a93cb"/>
<circle cx="564.1" cy="443.8" r="2.45" fill="#7a93cb"/>
<circle cx="83.1" cy="444.2" r="2.45" fill="#7a93cb"/>
<circle cx="298.3" cy="405.7" r="2.45" fill="#7a93cb"/>
<circle cx="137.6" cy="418.2" r="2.45" fill="#7a93cb"/>
<circle cx="709.4" cy="429.3" r="2.45" fill="#7a93cb"/>
<circle cx="589.0" cy="462.3" r="2.45" fill="#7a93cb"/>
<circle cx="699.8" cy="444.9" r="2.45" fill="#7a93cb"/>
<circle cx="683.2" cy="411.1" r="2.45" fill="#7a93cb"/>
<circle cx="156.8" cy="424.7" r="2.45" fill="#7a93cb"/>
<circle cx="665.8" cy="474.3" r="2.45" fill="#7a93cb"/>
<circle cx="280.3" cy="427.4" r="2.45" fill="#7a93cb"/>
<circle cx="152.6" cy="413.7" r="2.45" fill="#7a93cb"/>
<circle cx="229.9" cy="422.3" r="2.45" fill="#7a93cb"/>
<circle cx="142.5" cy="444.3" r="2.45" fill="#7a93cb"/>
<circle cx="658.7" cy="461.3" r="2.45" fill="#7a93cb"/>
<circle cx="221.8" cy="444.1" r="2.45" fill="#7a93cb"/>
<circle cx="259.2" cy="478.5" r="2.45" fill="#7a93cb"/>
<circle cx="168.1" cy="464.8" r="2.45" fill="#7a93cb"/>
<circle cx="669.7" cy="433.2" r="2.45" fill="#7a93cb"/>
<circle cx="642.4" cy="464.2" r="2.45" fill="#7a93cb"/>
<circle cx="568.9" cy="468.9" r="2.45" fill="#7a93cb"/>
<circle cx="399.9" cy="436.1" r="2.45" fill="#7a93cb"/>
<circle cx="286.3" cy="416.4" r="2.45" fill="#7a93cb"/>
<circle cx="416.2" cy="439.7" r="2.45" fill="#7a93cb"/>
<circle cx="633.9" cy="469.9" r="2.45" fill="#7a93cb"/>
<circle cx="707.3" cy="436.5" r="2.45" fill="#7a93cb"/>
<circle cx="309.2" cy="423.9" r="2.45" fill="#7a93cb"/>
<circle cx="223.1" cy="395.8" r="2.45" fill="#7a93cb"/>
<circle cx="430.9" cy="451.9" r="2.45" fill="#7a93cb"/>
<circle cx="555.5" cy="447.6" r="2.45" fill="#7a93cb"/>
<circle cx="164.5" cy="428.4" r="2.45" fill="#7a93cb"/>
<circle cx="79.1" cy="421.9" r="2.45" fill="#7a93cb"/>
<circle cx="215.7" cy="435.9" r="2.45" fill="#7a93cb"/>
<circle cx="701.4" cy="439.3" r="2.45" fill="#7a93cb"/>
<circle cx="48.2" cy="479.0" r="2.45" fill="#7a93cb"/>
<circle cx="146.3" cy="437.4" r="2.45" fill="#7a93cb"/>
<circle cx="334.4" cy="443.7" r="2.45" fill="#7a93cb"/>
<circle cx="642.5" cy="467.3" r="2.45" fill="#7a93cb"/>
<circle cx="198.1" cy="435.0" r="2.45" fill="#7a93cb"/>
<circle cx="61.8" cy="487.7" r="2.45" fill="#7a93cb"/>
<circle cx="283.1" cy="469.8" r="2.45" fill="#7a93cb"/>
<circle cx="284.5" cy="460.2" r="2.45" fill="#7a93cb"/>
<circle cx="435.1" cy="439.1" r="2.45" fill="#7a93cb"/>
<circle cx="182.8" cy="436.9" r="2.45" fill="#7a93cb"/>
<circle cx="362.8" cy="467.1" r="2.45" fill="#7a93cb"/>
<circle cx="669.8" cy="458.8" r="2.45" fill="#7a93cb"/>
<circle cx="146.3" cy="470.8" r="2.45" fill="#7a93cb"/>
<circle cx="471.4" cy="416.6" r="2.45" fill="#7a93cb"/>
<circle cx="567.1" cy="449.7" r="2.45" fill="#7a93cb"/>
<circle cx="222.7" cy="484.0" r="2.45" fill="#7a93cb"/>
<circle cx="475.9" cy="440.8" r="2.45" fill="#7a93cb"/>
<circle cx="280.0" cy="435.5" r="2.45" fill="#7a93cb"/>
<circle cx="342.1" cy="408.0" r="2.45" fill="#7a93cb"/>
<circle cx="647.8" cy="477.3" r="2.45" fill="#7a93cb"/>
<circle cx="400.5" cy="449.5" r="2.45" fill="#7a93cb"/>
<circle cx="205.0" cy="475.3" r="2.45" fill="#7a93cb"/>
<circle cx="565.0" cy="483.8" r="2.45" fill="#7a93cb"/>
<circle cx="413.4" cy="407.4" r="2.45" fill="#7a93cb"/>
<circle cx="141.6" cy="461.9" r="2.45" fill="#7a93cb"/>
<circle cx="451.4" cy="444.0" r="2.45" fill="#7a93cb"/>
<circle cx="473.6" cy="422.5" r="2.45" fill="#7a93cb"/>
<circle cx="163.1" cy="454.8" r="2.45" fill="#7a93cb"/>
<circle cx="246.7" cy="476.7" r="2.45" fill="#7a93cb"/>
<circle cx="638.4" cy="425.2" r="2.45" fill="#7a93cb"/>
<circle cx="608.5" cy="428.3" r="2.45" fill="#7a93cb"/>
<circle cx="356.4" cy="428.5" r="2.45" fill="#7a93cb"/>
<circle cx="347.9" cy="460.0" r="2.45" fill="#7a93cb"/>
<circle cx="117.0" cy="459.6" r="2.45" fill="#7a93cb"/>
<circle cx="72.8" cy="453.3" r="2.45" fill="#7a93cb"/>
<circle cx="609.1" cy="430.8" r="2.45" fill="#7a93cb"/>
<circle cx="223.9" cy="441.3" r="2.45" fill="#7a93cb"/>
<circle cx="337.0" cy="424.7" r="2.45" fill="#7a93cb"/>
<circle cx="395.0" cy="457.4" r="2.45" fill="#7a93cb"/>
<circle cx="473.9" cy="402.9" r="2.45" fill="#7a93cb"/>
<circle cx="191.3" cy="415.6" r="2.45" fill="#7a93cb"/>
<circle cx="57.1" cy="457.8" r="2.45" fill="#7a93cb"/>
<circle cx="204.0" cy="428.4" r="2.45" fill="#7a93cb"/>
<circle cx="675.2" cy="428.2" r="2.45" fill="#7a93cb"/>
<circle cx="264.4" cy="415.6" r="2.45" fill="#7a93cb"/>
<circle cx="265.5" cy="459.1" r="2.45" fill="#7a93cb"/>
<circle cx="650.5" cy="436.5" r="2.45" fill="#7a93cb"/>
<circle cx="698.0" cy="446.1" r="2.45" fill="#7a93cb"/>
<circle cx="605.4" cy="431.9" r="2.45" fill="#7a93cb"/>
<circle cx="617.3" cy="447.9" r="2.45" fill="#7a93cb"/>
<circle cx="251.7" cy="461.0" r="2.45" fill="#7a93cb"/>
<circle cx="461.0" cy="472.8" r="2.45" fill="#7a93cb"/>
<circle cx="652.7" cy="466.2" r="2.45" fill="#7a93cb"/>
<circle cx="64.9" cy="469.7" r="2.45" fill="#7a93cb"/>
<circle cx="664.8" cy="452.7" r="2.45" fill="#7a93cb"/>
<circle cx="141.3" cy="480.0" r="2.45" fill="#7a93cb"/>
<circle cx="74.7" cy="432.2" r="2.45" fill="#7a93cb"/>
<circle cx="468.5" cy="431.9" r="2.45" fill="#7a93cb"/>
<circle cx="439.7" cy="451.7" r="2.45" fill="#7a93cb"/>
<circle cx="590.7" cy="421.9" r="2.45" fill="#7a93cb"/>
<circle cx="639.7" cy="474.3" r="2.45" fill="#7a93cb"/>
<circle cx="624.1" cy="411.3" r="2.45" fill="#7a93cb"/>
<circle cx="675.0" cy="469.7" r="2.45" fill="#7a93cb"/>
<circle cx="183.8" cy="469.2" r="2.45" fill="#7a93cb"/>
<circle cx="69.9" cy="419.1" r="2.45" fill="#7a93cb"/>
<circle cx="587.0" cy="436.3" r="2.45" fill="#7a93cb"/>
<circle cx="595.7" cy="436.4" r="2.45" fill="#7a93cb"/>
<circle cx="238.1" cy="470.4" r="2.45" fill="#7a93cb"/>
<circle cx="112.1" cy="427.3" r="2.45" fill="#7a93cb"/>
<circle cx="183.3" cy="454.2" r="2.45" fill="#7a93cb"/>
<circle cx="328.8" cy="481.6" r="2.45" fill="#7a93cb"/>
<circle cx="217.7" cy="456.4" r="2.45" fill="#7a93cb"/>
<circle cx="260.4" cy="403.1" r="2.45" fill="#7a93cb"/>
<circle cx="382.0" cy="418.8" r="2.45" fill="#7a93cb"/>
<circle cx="458.2" cy="479.5" r="2.45" fill="#7a93cb"/>
<circle cx="321.6" cy="447.9" r="2.45" fill="#7a93cb"/>
<circle cx="561.1" cy="452.6" r="2.45" fill="#7a93cb"/>
<circle cx="191.0" cy="417.6" r="2.45" fill="#7a93cb"/>
<circle cx="107.4" cy="421.9" r="2.45" fill="#7a93cb"/>
<circle cx="160.3" cy="488.7" r="2.45" fill="#70788e"/>
<circle cx="181.4" cy="426.9" r="2.45" fill="#7a93cb"/>
<circle cx="697.3" cy="486.7" r="2.45" fill="#7a93cb"/>
<circle cx="373.4" cy="444.9" r="2.45" fill="#7a93cb"/>
<circle cx="576.9" cy="463.0" r="2.45" fill="#7a93cb"/>
<circle cx="375.9" cy="452.6" r="2.45" fill="#7a93cb"/>
<circle cx="600.2" cy="457.7" r="2.45" fill="#7a93cb"/>
<circle cx="674.7" cy="456.3" r="2.45" fill="#7a93cb"/>
<circle cx="189.8" cy="431.7" r="2.45" fill="#7a93cb"/>
<circle cx="378.4" cy="469.4" r="2.45" fill="#7a93cb"/>
<circle cx="470.3" cy="472.5" r="2.45" fill="#7a93cb"/>
<circle cx="571.0" cy="431.9" r="2.45" fill="#7a93cb"/>
<circle cx="570.3" cy="436.7" r="2.45" fill="#7a93cb"/>
<circle cx="283.5" cy="449.7" r="2.45" fill="#7a93cb"/>
<circle cx="309.4" cy="414.4" r="2.45" fill="#7a93cb"/>
<circle cx="104.3" cy="414.6" r="2.45" fill="#7a93cb"/>
<circle cx="63.7" cy="461.4" r="2.45" fill="#7a93cb"/>
<circle cx="222.0" cy="413.1" r="2.45" fill="#7a93cb"/>
<circle cx="380.3" cy="450.9" r="2.45" fill="#7a93cb"/>
<circle cx="634.8" cy="459.5" r="2.45" fill="#7a93cb"/>
<circle cx="353.5" cy="442.6" r="2.45" fill="#7a93cb"/>
<circle cx="264.2" cy="465.3" r="2.45" fill="#7a93cb"/>
<circle cx="607.7" cy="434.4" r="2.45" fill="#7a93cb"/>
<circle cx="338.8" cy="426.0" r="2.45" fill="#7a93cb"/>
<circle cx="432.1" cy="467.9" r="2.45" fill="#7a93cb"/>
<circle cx="354.2" cy="415.0" r="2.45" fill="#7a93cb"/>
<circle cx="205.2" cy="462.5" r="2.45" fill="#7a93cb"/>
<circle cx="247.5" cy="431.5" r="2.45" fill="#7a93cb"/>
<circle cx="608.0" cy="465.4" r="2.45" fill="#7a93cb"/>
<circle cx="150.7" cy="458.6" r="2.45" fill="#7a93cb"/>
<circle cx="264.2" cy="443.2" r="2.45" fill="#7a93cb"/>
<circle cx="154.0" cy="453.7" r="2.45" fill="#7a93cb"/>
<circle cx="172.9" cy="400.6" r="2.45" fill="#7a93cb"/>
<circle cx="687.0" cy="470.2" r="2.45" fill="#7a93cb"/>
<circle cx="302.5" cy="398.1" r="2.45" fill="#7a93cb"/>
<circle cx="575.6" cy="429.2" r="2.45" fill="#7a93cb"/>
<circle cx="336.2" cy="462.1" r="2.45" fill="#7a93cb"/>
<circle cx="471.3" cy="469.7" r="2.45" fill="#7a93cb"/>
<circle cx="184.3" cy="450.4" r="2.45" fill="#7a93cb"/>
<circle cx="69.6" cy="449.9" r="2.45" fill="#7a93cb"/>
<circle cx="573.0" cy="432.2" r="2.45" fill="#7a93cb"/>
<circle cx="379.8" cy="436.4" r="2.45" fill="#7a93cb"/>
<circle cx="355.1" cy="466.5" r="2.45" fill="#7a93cb"/>
<circle cx="448.5" cy="449.6" r="2.45" fill="#7a93cb"/>
<circle cx="539.7" cy="448.2" r="2.45" fill="#7a93cb"/>
<circle cx="428.7" cy="428.0" r="2.45" fill="#7a93cb"/>
<circle cx="327.1" cy="459.9" r="2.45" fill="#7a93cb"/>
<circle cx="527.3" cy="425.9" r="2.45" fill="#7a93cb"/>
<circle cx="348.8" cy="454.6" r="2.45" fill="#7a93cb"/>
<circle cx="464.8" cy="470.6" r="2.45" fill="#7a93cb"/>
<circle cx="326.0" cy="425.2" r="2.45" fill="#7a93cb"/>
<circle cx="213.3" cy="448.6" r="2.45" fill="#7a93cb"/>
<circle cx="349.7" cy="437.1" r="2.45" fill="#7a93cb"/>
<circle cx="319.2" cy="433.5" r="2.45" fill="#7a93cb"/>
<circle cx="665.6" cy="463.1" r="2.45" fill="#7a93cb"/>
<circle cx="305.5" cy="445.0" r="2.45" fill="#7a93cb"/>
<circle cx="695.1" cy="478.3" r="2.45" fill="#7a93cb"/>
<circle cx="408.3" cy="464.9" r="2.45" fill="#7a93cb"/>
<circle cx="566.9" cy="407.4" r="2.45" fill="#7a93cb"/>
<circle cx="392.3" cy="470.3" r="2.45" fill="#7a93cb"/>
<circle cx="429.1" cy="442.1" r="2.45" fill="#7a93cb"/>
<circle cx="472.1" cy="421.0" r="2.45" fill="#7a93cb"/>
<circle cx="393.9" cy="449.3" r="2.45" fill="#7a93cb"/>
<circle cx="677.4" cy="461.1" r="2.45" fill="#7a93cb"/>
<circle cx="554.2" cy="468.2" r="2.45" fill="#7a93cb"/>
<circle cx="701.7" cy="452.2" r="2.45" fill="#7a93cb"/>
<circle cx="84.7" cy="456.9" r="2.45" fill="#7a93cb"/>
<circle cx="312.8" cy="483.5" r="2.45" fill="#7a93cb"/>
<circle cx="325.4" cy="448.7" r="2.45" fill="#7a93cb"/>
<circle cx="223.3" cy="460.1" r="2.45" fill="#7a93cb"/>
<circle cx="540.1" cy="442.9" r="2.45" fill="#7a93cb"/>
<circle cx="192.6" cy="423.5" r="2.45" fill="#7a93cb"/>
<circle cx="307.7" cy="461.0" r="2.45" fill="#7a93cb"/>
<circle cx="133.0" cy="425.7" r="2.45" fill="#7a93cb"/>
<circle cx="585.4" cy="436.2" r="2.45" fill="#7a93cb"/>
<circle cx="359.0" cy="440.8" r="2.45" fill="#7a93cb"/>
<circle cx="197.3" cy="403.2" r="2.45" fill="#7a93cb"/>
<circle cx="281.8" cy="436.0" r="2.45" fill="#7a93cb"/>
<circle cx="591.5" cy="422.2" r="2.45" fill="#7a93cb"/>
<circle cx="358.3" cy="455.7" r="2.45" fill="#7a93cb"/>
<circle cx="411.6" cy="468.0" r="2.45" fill="#7a93cb"/>
<circle cx="601.4" cy="452.2" r="2.45" fill="#7a93cb"/>
<circle cx="612.7" cy="457.3" r="2.45" fill="#7a93cb"/>
<circle cx="297.1" cy="458.2" r="2.45" fill="#7a93cb"/>
<circle cx="330.4" cy="462.9" r="2.45" fill="#7a93cb"/>
<circle cx="48.8" cy="430.1" r="2.45" fill="#7a93cb"/>
<circle cx="234.0" cy="458.8" r="2.45" fill="#7a93cb"/>
<circle cx="247.7" cy="445.6" r="2.45" fill="#7a93cb"/>
<circle cx="331.9" cy="436.0" r="2.45" fill="#7a93cb"/>
<circle cx="664.6" cy="418.4" r="2.45" fill="#7a93cb"/>
<circle cx="84.9" cy="421.1" r="2.45" fill="#7a93cb"/>
<circle cx="649.4" cy="425.1" r="2.45" fill="#7a93cb"/>
<circle cx="140.4" cy="420.8" r="2.45" fill="#7a93cb"/>
<circle cx="468.1" cy="483.0" r="2.45" fill="#7a93cb"/>
<circle cx="54.6" cy="405.5" r="2.45" fill="#7a93cb"/>
<circle cx="114.5" cy="466.4" r="2.45" fill="#7a93cb"/>
<circle cx="202.4" cy="425.7" r="2.45" fill="#7a93cb"/>
<circle cx="277.4" cy="465.5" r="2.45" fill="#7a93cb"/>
<circle cx="648.2" cy="424.4" r="2.45" fill="#7a93cb"/>
<circle cx="158.7" cy="414.3" r="2.45" fill="#7a93cb"/>
<circle cx="451.6" cy="425.3" r="2.45" fill="#7a93cb"/>
<circle cx="491.5" cy="424.7" r="2.45" fill="#7a93cb"/>
<circle cx="604.8" cy="462.1" r="2.45" fill="#7a93cb"/>
<circle cx="634.0" cy="441.2" r="2.45" fill="#7a93cb"/>
<circle cx="222.9" cy="459.5" r="2.45" fill="#7a93cb"/>
<circle cx="139.7" cy="444.8" r="2.45" fill="#7a93cb"/>
<circle cx="85.9" cy="446.2" r="2.45" fill="#7a93cb"/>
<circle cx="143.0" cy="444.9" r="2.45" fill="#7a93cb"/>
<circle cx="378.3" cy="442.1" r="2.45" fill="#7a93cb"/>
<circle cx="620.8" cy="485.7" r="2.45" fill="#7a93cb"/>
<circle cx="606.1" cy="446.2" r="2.45" fill="#7a93cb"/>
<circle cx="421.1" cy="434.2" r="2.45" fill="#7a93cb"/>
<circle cx="606.0" cy="451.1" r="2.45" fill="#7a93cb"/>
<circle cx="325.5" cy="403.8" r="2.45" fill="#7a93cb"/>
<circle cx="97.1" cy="436.1" r="2.45" fill="#7a93cb"/>
<circle cx="470.0" cy="480.0" r="2.45" fill="#7a93cb"/>
<circle cx="452.4" cy="432.9" r="2.45" fill="#7a93cb"/>
<circle cx="666.4" cy="453.6" r="2.45" fill="#7a93cb"/>
<circle cx="699.8" cy="443.8" r="2.45" fill="#7a93cb"/>
<circle cx="369.3" cy="413.5" r="2.45" fill="#7a93cb"/>
<circle cx="69.5" cy="430.4" r="2.45" fill="#7a93cb"/>
<circle cx="462.8" cy="453.1" r="2.45" fill="#7a93cb"/>
<circle cx="620.0" cy="451.6" r="2.45" fill="#7a93cb"/>
<circle cx="362.6" cy="443.0" r="2.45" fill="#7a93cb"/>
<circle cx="559.4" cy="461.1" r="2.45" fill="#7a93cb"/>
<circle cx="336.4" cy="448.6" r="2.45" fill="#7a93cb"/>
<circle cx="415.4" cy="421.2" r="2.45" fill="#7a93cb"/>
<circle cx="241.8" cy="421.1" r="2.45" fill="#7a93cb"/>
<circle cx="315.5" cy="444.2" r="2.45" fill="#7a93cb"/>
<circle cx="227.7" cy="444.1" r="2.45" fill="#7a93cb"/>
<circle cx="695.4" cy="434.9" r="2.45" fill="#7a93cb"/>
<circle cx="573.6" cy="453.5" r="2.45" fill="#7a93cb"/>
<circle cx="257.9" cy="455.4" r="2.45" fill="#7a93cb"/>
<circle cx="437.0" cy="436.2" r="2.45" fill="#7a93cb"/>
<circle cx="568.5" cy="478.0" r="2.45" fill="#7a93cb"/>
<circle cx="527.6" cy="441.8" r="2.45" fill="#7a93cb"/>
<circle cx="80.1" cy="455.3" r="2.45" fill="#7a93cb"/>
<circle cx="51.1" cy="462.6" r="2.45" fill="#7a93cb"/>
<circle cx="659.8" cy="437.9" r="2.45" fill="#7a93cb"/>
<circle cx="652.0" cy="437.7" r="2.45" fill="#7a93cb"/>
<circle cx="457.1" cy="436.7" r="2.45" fill="#7a93cb"/>
<circle cx="554.2" cy="470.3" r="2.45" fill="#7a93cb"/>
<circle cx="167.6" cy="478.5" r="2.45" fill="#7a93cb"/>
<circle cx="562.1" cy="411.4" r="2.45" fill="#7a93cb"/>
<circle cx="594.0" cy="424.9" r="2.45" fill="#7a93cb"/>
<circle cx="420.8" cy="457.9" r="2.45" fill="#7a93cb"/>
<circle cx="247.9" cy="448.7" r="2.45" fill="#7a93cb"/>
<circle cx="258.8" cy="448.2" r="2.45" fill="#7a93cb"/>
<circle cx="473.8" cy="408.5" r="2.45" fill="#7a93cb"/>
<circle cx="83.3" cy="440.5" r="2.45" fill="#7a93cb"/>
<circle cx="73.2" cy="468.5" r="2.45" fill="#7a93cb"/>
<circle cx="585.9" cy="440.0" r="2.45" fill="#7a93cb"/>
<circle cx="657.9" cy="447.4" r="2.45" fill="#7a93cb"/>
<circle cx="56.4" cy="450.5" r="2.45" fill="#7a93cb"/>
<circle cx="440.7" cy="407.9" r="2.45" fill="#7a93cb"/>
<circle cx="699.2" cy="445.8" r="2.45" fill="#7a93cb"/>
<circle cx="321.3" cy="470.2" r="2.45" fill="#7a93cb"/>
<circle cx="475.6" cy="461.0" r="2.45" fill="#7a93cb"/>
<circle cx="147.9" cy="482.9" r="2.45" fill="#7a93cb"/>
<circle cx="50.2" cy="432.9" r="2.45" fill="#7a93cb"/>
<circle cx="127.9" cy="402.6" r="2.45" fill="#7a93cb"/>
<circle cx="105.6" cy="416.8" r="2.45" fill="#7a93cb"/>
<circle cx="132.8" cy="482.3" r="2.45" fill="#7a93cb"/>
<circle cx="80.3" cy="425.9" r="2.45" fill="#7a93cb"/>
<circle cx="465.0" cy="431.0" r="2.45" fill="#7a93cb"/>
<circle cx="353.3" cy="408.8" r="2.45" fill="#7a93cb"/>
<circle cx="215.9" cy="403.1" r="2.45" fill="#7a93cb"/>
<circle cx="56.8" cy="435.2" r="2.45" fill="#7a93cb"/>
<circle cx="590.5" cy="472.6" r="2.45" fill="#7a93cb"/>
<circle cx="253.9" cy="429.5" r="2.45" fill="#7a93cb"/>
<circle cx="157.4" cy="417.7" r="2.45" fill="#7a93cb"/>
<circle cx="370.4" cy="475.1" r="2.45" fill="#7a93cb"/>
<circle cx="291.4" cy="440.0" r="2.45" fill="#7a93cb"/>
<circle cx="338.8" cy="433.4" r="2.45" fill="#7a93cb"/>
<circle cx="143.4" cy="423.9" r="2.45" fill="#7a93cb"/>
<circle cx="288.6" cy="435.5" r="2.45" fill="#7a93cb"/>
<circle cx="465.8" cy="448.9" r="2.45" fill="#7a93cb"/>
<circle cx="303.5" cy="424.9" r="2.45" fill="#7a93cb"/>
<circle cx="675.4" cy="425.0" r="2.45" fill="#7a93cb"/>
<circle cx="87.3" cy="549.3" r="2.45" fill="#70788e"/>
<circle cx="694.7" cy="517.3" r="2.45" fill="#70788e"/>
<circle cx="267.8" cy="532.8" r="2.45" fill="#70788e"/>
<circle cx="449.9" cy="628.2" r="2.45" fill="#70788e"/>
<circle cx="446.8" cy="633.8" r="2.45" fill="#70788e"/>
<circle cx="252.2" cy="511.7" r="2.45" fill="#70788e"/>
<circle cx="297.5" cy="635.1" r="2.45" fill="#70788e"/>
<circle cx="642.9" cy="560.6" r="2.45" fill="#70788e"/>
<circle cx="48.1" cy="513.4" r="2.45" fill="#70788e"/>
<circle cx="221.9" cy="549.6" r="2.45" fill="#70788e"/>
<circle cx="589.6" cy="581.0" r="2.45" fill="#70788e"/>
<circle cx="637.1" cy="538.8" r="2.45" fill="#70788e"/>
<circle cx="586.8" cy="630.6" r="2.45" fill="#70788e"/>
<circle cx="623.7" cy="529.3" r="2.45" fill="#70788e"/>
<circle cx="613.0" cy="546.3" r="2.45" fill="#70788e"/>
<circle cx="583.7" cy="518.0" r="2.45" fill="#70788e"/>
<circle cx="277.7" cy="558.8" r="2.45" fill="#70788e"/>
<circle cx="103.6" cy="646.1" r="2.45" fill="#70788e"/>
<circle cx="180.3" cy="619.9" r="2.45" fill="#70788e"/>
<circle cx="545.9" cy="536.5" r="2.45" fill="#70788e"/>
<circle cx="184.4" cy="501.8" r="2.45" fill="#70788e"/>
<circle cx="216.4" cy="595.0" r="2.45" fill="#70788e"/>
<circle cx="352.7" cy="492.4" r="2.45" fill="#70788e"/>
<circle cx="105.3" cy="626.4" r="2.45" fill="#70788e"/>
<circle cx="201.9" cy="537.0" r="2.45" fill="#70788e"/>
<circle cx="432.4" cy="614.3" r="2.45" fill="#70788e"/>
<circle cx="394.0" cy="617.9" r="2.45" fill="#70788e"/>
<circle cx="363.9" cy="587.1" r="2.45" fill="#70788e"/>
<circle cx="174.9" cy="533.2" r="2.45" fill="#70788e"/>
<circle cx="167.2" cy="517.7" r="2.45" fill="#70788e"/>
<circle cx="422.3" cy="513.3" r="2.45" fill="#70788e"/>
<circle cx="314.7" cy="560.4" r="2.45" fill="#70788e"/>
<circle cx="76.7" cy="534.5" r="2.45" fill="#70788e"/>
<circle cx="710.1" cy="496.1" r="2.45" fill="#70788e"/>
<circle cx="467.8" cy="516.8" r="2.45" fill="#70788e"/>
<circle cx="570.6" cy="517.1" r="2.45" fill="#70788e"/>
<circle cx="276.4" cy="548.6" r="2.45" fill="#70788e"/>
<circle cx="392.4" cy="576.8" r="2.45" fill="#70788e"/>
<circle cx="705.6" cy="511.2" r="2.45" fill="#70788e"/>
<circle cx="622.9" cy="494.0" r="2.45" fill="#70788e"/>
<circle cx="221.0" cy="589.7" r="2.45" fill="#70788e"/>
<circle cx="565.2" cy="499.9" r="2.45" fill="#70788e"/>
<circle cx="557.2" cy="656.3" r="2.45" fill="#70788e"/>
<circle cx="591.5" cy="574.2" r="2.45" fill="#70788e"/>
<circle cx="72.2" cy="548.2" r="2.45" fill="#70788e"/>
<circle cx="180.7" cy="504.7" r="2.45" fill="#70788e"/>
<circle cx="80.9" cy="504.8" r="2.45" fill="#70788e"/>
<circle cx="417.7" cy="520.3" r="2.45" fill="#70788e"/>
<circle cx="676.9" cy="549.4" r="2.45" fill="#70788e"/>
<circle cx="652.1" cy="552.7" r="2.45" fill="#70788e"/>
<circle cx="311.3" cy="586.1" r="2.45" fill="#70788e"/>
<circle cx="126.7" cy="531.8" r="2.45" fill="#70788e"/>
<circle cx="422.4" cy="548.3" r="2.45" fill="#70788e"/>
<circle cx="473.0" cy="506.3" r="2.45" fill="#70788e"/>
<circle cx="308.4" cy="600.6" r="2.45" fill="#70788e"/>
<circle cx="345.1" cy="522.1" r="2.45" fill="#70788e"/>
<circle cx="706.5" cy="597.8" r="2.45" fill="#70788e"/>
<circle cx="194.4" cy="658.4" r="2.45" fill="#70788e"/>
<circle cx="281.1" cy="548.3" r="2.45" fill="#70788e"/>
<circle cx="647.3" cy="505.5" r="2.45" fill="#70788e"/>
<circle cx="78.3" cy="611.3" r="2.45" fill="#70788e"/>
<circle cx="569.9" cy="573.4" r="2.45" fill="#70788e"/>
<circle cx="702.3" cy="519.0" r="2.45" fill="#70788e"/>
<circle cx="84.1" cy="597.8" r="2.45" fill="#70788e"/>
<circle cx="671.7" cy="569.9" r="2.45" fill="#70788e"/>
<circle cx="440.3" cy="592.3" r="2.45" fill="#70788e"/>
<circle cx="262.4" cy="493.2" r="2.45" fill="#70788e"/>
<circle cx="217.9" cy="527.3" r="2.45" fill="#70788e"/>
<circle cx="159.1" cy="553.5" r="2.45" fill="#70788e"/>
<circle cx="205.6" cy="552.8" r="2.45" fill="#70788e"/>
<circle cx="55.4" cy="562.8" r="2.45" fill="#70788e"/>
<circle cx="70.9" cy="581.2" r="2.45" fill="#70788e"/>
<circle cx="668.1" cy="539.8" r="2.45" fill="#70788e"/>
<circle cx="623.4" cy="515.0" r="2.45" fill="#70788e"/>
<circle cx="344.4" cy="523.4" r="2.45" fill="#70788e"/>
<circle cx="111.5" cy="518.3" r="2.45" fill="#70788e"/>
<circle cx="464.9" cy="623.5" r="2.45" fill="#70788e"/>
<circle cx="347.8" cy="554.8" r="2.45" fill="#70788e"/>
<circle cx="364.6" cy="567.3" r="2.45" fill="#70788e"/>
<circle cx="464.7" cy="611.3" r="2.45" fill="#70788e"/>
<circle cx="84.7" cy="525.1" r="2.45" fill="#70788e"/>
<circle cx="143.2" cy="533.6" r="2.45" fill="#70788e"/>
<circle cx="320.8" cy="532.7" r="2.45" fill="#70788e"/>
<circle cx="150.5" cy="535.0" r="2.45" fill="#70788e"/>
<circle cx="269.4" cy="510.7" r="2.45" fill="#70788e"/>
<circle cx="158.6" cy="635.9" r="2.45" fill="#70788e"/>
<circle cx="647.6" cy="558.0" r="2.45" fill="#70788e"/>
<circle cx="122.9" cy="495.2" r="2.45" fill="#70788e"/>
<circle cx="642.2" cy="517.3" r="2.45" fill="#70788e"/>
<circle cx="364.5" cy="494.9" r="2.45" fill="#70788e"/>
<circle cx="181.1" cy="504.7" r="2.45" fill="#70788e"/>
<circle cx="289.2" cy="548.7" r="2.45" fill="#70788e"/>
<circle cx="111.9" cy="511.3" r="2.45" fill="#70788e"/>
<circle cx="239.5" cy="506.6" r="2.45" fill="#70788e"/>
<circle cx="697.8" cy="512.3" r="2.45" fill="#70788e"/>
<circle cx="57.7" cy="507.3" r="2.45" fill="#70788e"/>
<circle cx="140.2" cy="515.8" r="2.45" fill="#70788e"/>
<circle cx="48.3" cy="556.6" r="2.45" fill="#70788e"/>
<circle cx="170.6" cy="537.5" r="2.45" fill="#70788e"/>
<circle cx="336.4" cy="572.5" r="2.45" fill="#70788e"/>
<circle cx="426.9" cy="536.9" r="2.45" fill="#70788e"/>
<circle cx="138.8" cy="519.5" r="2.45" fill="#70788e"/>
<circle cx="99.7" cy="547.0" r="2.45" fill="#70788e"/>
<circle cx="105.1" cy="609.8" r="2.45" fill="#70788e"/>
<circle cx="229.1" cy="560.6" r="2.45" fill="#70788e"/>
<circle cx="184.0" cy="547.6" r="2.45" fill="#70788e"/>
<circle cx="586.7" cy="582.4" r="2.45" fill="#70788e"/>
<circle cx="434.7" cy="569.0" r="2.45" fill="#70788e"/>
<circle cx="586.1" cy="499.7" r="2.45" fill="#70788e"/>
<circle cx="269.9" cy="518.3" r="2.45" fill="#70788e"/>
<circle cx="374.9" cy="574.6" r="2.45" fill="#70788e"/>
<circle cx="57.3" cy="619.1" r="2.45" fill="#70788e"/>
<circle cx="626.9" cy="564.7" r="2.45" fill="#70788e"/>
<circle cx="224.1" cy="537.8" r="2.45" fill="#70788e"/>
<circle cx="291.1" cy="547.7" r="2.45" fill="#70788e"/>
<circle cx="155.7" cy="623.8" r="2.45" fill="#70788e"/>
<circle cx="50.1" cy="562.1" r="2.45" fill="#70788e"/>
<circle cx="392.7" cy="565.6" r="2.45" fill="#70788e"/>
<circle cx="127.3" cy="577.9" r="2.45" fill="#70788e"/>
<circle cx="622.5" cy="522.1" r="2.45" fill="#70788e"/>
<circle cx="300.6" cy="543.2" r="2.45" fill="#70788e"/>
<circle cx="627.4" cy="599.8" r="2.45" fill="#70788e"/>
<circle cx="388.4" cy="576.8" r="2.45" fill="#70788e"/>
<circle cx="399.8" cy="516.8" r="2.45" fill="#70788e"/>
<circle cx="690.3" cy="506.6" r="2.45" fill="#70788e"/>
<circle cx="195.8" cy="495.0" r="2.45" fill="#70788e"/>
<circle cx="213.6" cy="506.0" r="2.45" fill="#70788e"/>
<circle cx="590.4" cy="523.7" r="2.45" fill="#70788e"/>
<circle cx="58.8" cy="525.1" r="2.45" fill="#70788e"/>
<circle cx="445.6" cy="497.9" r="2.45" fill="#70788e"/>
<circle cx="625.2" cy="573.6" r="2.45" fill="#70788e"/>
<circle cx="128.8" cy="534.3" r="2.45" fill="#70788e"/>
<circle cx="232.9" cy="581.2" r="2.45" fill="#70788e"/>
<circle cx="128.2" cy="495.0" r="2.45" fill="#70788e"/>
<circle cx="440.6" cy="525.7" r="2.45" fill="#70788e"/>
<circle cx="619.6" cy="514.5" r="2.45" fill="#70788e"/>
<circle cx="596.3" cy="551.2" r="2.45" fill="#70788e"/>
<circle cx="670.5" cy="570.8" r="2.45" fill="#70788e"/>
<circle cx="605.4" cy="552.4" r="2.45" fill="#70788e"/>
<circle cx="396.5" cy="542.6" r="2.45" fill="#70788e"/>
<circle cx="563.6" cy="635.3" r="2.45" fill="#70788e"/>
<circle cx="272.1" cy="602.1" r="2.45" fill="#70788e"/>
<circle cx="336.7" cy="495.6" r="2.45" fill="#70788e"/>
<circle cx="699.5" cy="560.1" r="2.45" fill="#70788e"/>
<circle cx="589.0" cy="547.8" r="2.45" fill="#70788e"/>
<circle cx="610.7" cy="650.0" r="2.45" fill="#70788e"/>
<circle cx="684.0" cy="578.3" r="2.45" fill="#70788e"/>
<circle cx="668.3" cy="521.8" r="2.45" fill="#70788e"/>
<circle cx="467.7" cy="491.8" r="2.45" fill="#70788e"/>
<circle cx="289.3" cy="571.2" r="2.45" fill="#70788e"/>
<circle cx="335.0" cy="519.8" r="2.45" fill="#70788e"/>
<circle cx="382.7" cy="497.0" r="2.45" fill="#70788e"/>
<circle cx="691.8" cy="532.8" r="2.45" fill="#70788e"/>
<circle cx="563.4" cy="496.9" r="2.45" fill="#70788e"/>
<circle cx="585.2" cy="591.0" r="2.45" fill="#70788e"/>
<circle cx="635.1" cy="533.1" r="2.45" fill="#70788e"/>
<circle cx="473.6" cy="506.5" r="2.45" fill="#70788e"/>
<circle cx="223.7" cy="504.8" r="2.45" fill="#70788e"/>
<circle cx="407.6" cy="517.9" r="2.45" fill="#70788e"/>
<circle cx="661.7" cy="546.3" r="2.45" fill="#70788e"/>
<circle cx="393.0" cy="533.3" r="2.45" fill="#70788e"/>
<circle cx="335.4" cy="531.4" r="2.45" fill="#70788e"/>
<circle cx="250.1" cy="551.2" r="2.45" fill="#70788e"/>
<circle cx="442.2" cy="510.5" r="2.45" fill="#70788e"/>
<circle cx="225.5" cy="579.5" r="2.45" fill="#70788e"/>
<circle cx="357.2" cy="516.3" r="2.45" fill="#70788e"/>
<circle cx="129.4" cy="533.6" r="2.45" fill="#70788e"/>
<circle cx="134.4" cy="500.5" r="2.45" fill="#70788e"/>
<circle cx="238.7" cy="512.5" r="2.45" fill="#70788e"/>
<circle cx="208.9" cy="566.4" r="2.45" fill="#70788e"/>
<circle cx="605.4" cy="573.0" r="2.45" fill="#70788e"/>
<circle cx="452.6" cy="541.7" r="2.45" fill="#70788e"/>
<circle cx="180.8" cy="591.3" r="2.45" fill="#70788e"/>
<circle cx="411.4" cy="538.6" r="2.45" fill="#70788e"/>
<circle cx="253.5" cy="556.5" r="2.45" fill="#70788e"/>
<circle cx="208.1" cy="547.2" r="2.45" fill="#70788e"/>
<circle cx="301.8" cy="507.6" r="2.45" fill="#70788e"/>
<circle cx="436.5" cy="581.3" r="2.45" fill="#70788e"/>
<circle cx="620.1" cy="562.3" r="2.45" fill="#70788e"/>
<circle cx="205.6" cy="496.7" r="2.45" fill="#70788e"/>
<circle cx="236.4" cy="574.5" r="2.45" fill="#70788e"/>
<circle cx="703.7" cy="522.3" r="2.45" fill="#70788e"/>
<circle cx="152.4" cy="528.4" r="2.45" fill="#70788e"/>
<circle cx="91.4" cy="617.2" r="2.45" fill="#70788e"/>
<circle cx="88.2" cy="548.1" r="2.45" fill="#70788e"/>
<circle cx="304.9" cy="550.8" r="2.45" fill="#70788e"/>
<circle cx="119.6" cy="606.9" r="2.45" fill="#70788e"/>
<circle cx="196.7" cy="537.2" r="2.45" fill="#70788e"/>
<circle cx="149.8" cy="612.2" r="2.45" fill="#70788e"/>
<circle cx="271.1" cy="523.0" r="2.45" fill="#70788e"/>
<circle cx="456.8" cy="560.0" r="2.45" fill="#70788e"/>
<circle cx="612.2" cy="582.9" r="2.45" fill="#70788e"/>
<circle cx="552.2" cy="531.2" r="2.45" fill="#70788e"/>
<circle cx="363.0" cy="574.4" r="2.45" fill="#70788e"/>
<circle cx="655.3" cy="517.5" r="2.45" fill="#70788e"/>
<circle cx="131.6" cy="608.2" r="2.45" fill="#70788e"/>
<circle cx="556.2" cy="496.3" r="2.45" fill="#70788e"/>
<circle cx="436.6" cy="496.6" r="2.45" fill="#70788e"/>
<circle cx="324.9" cy="568.0" r="2.45" fill="#70788e"/>
<circle cx="568.2" cy="494.0" r="2.45" fill="#70788e"/>
<circle cx="299.4" cy="564.1" r="2.45" fill="#70788e"/>
<circle cx="347.8" cy="566.1" r="2.45" fill="#70788e"/>
<circle cx="241.8" cy="609.3" r="2.45" fill="#70788e"/>
<circle cx="306.8" cy="523.3" r="2.45" fill="#70788e"/>
<circle cx="261.1" cy="562.0" r="2.45" fill="#70788e"/>
<circle cx="570.4" cy="517.0" r="2.45" fill="#70788e"/>
<circle cx="342.3" cy="543.9" r="2.45" fill="#70788e"/>
<circle cx="169.5" cy="564.1" r="2.45" fill="#70788e"/>
<circle cx="429.7" cy="505.6" r="2.45" fill="#70788e"/>
<circle cx="433.8" cy="531.6" r="2.45" fill="#70788e"/>
<circle cx="262.4" cy="637.3" r="2.45" fill="#70788e"/>
<circle cx="607.9" cy="581.4" r="2.45" fill="#70788e"/>
<circle cx="182.9" cy="592.7" r="2.45" fill="#70788e"/>
<circle cx="330.6" cy="655.1" r="2.45" fill="#70788e"/>
<circle cx="78.5" cy="500.9" r="2.45" fill="#70788e"/>
<circle cx="422.7" cy="497.4" r="2.45" fill="#70788e"/>
<circle cx="561.4" cy="662.8" r="2.45" fill="#70788e"/>
<circle cx="405.1" cy="494.3" r="2.45" fill="#70788e"/>
<circle cx="391.0" cy="583.4" r="2.45" fill="#70788e"/>
<circle cx="284.9" cy="492.4" r="2.45" fill="#70788e"/>
<circle cx="677.4" cy="550.1" r="2.45" fill="#70788e"/>
<circle cx="112.8" cy="531.2" r="2.45" fill="#70788e"/>
<circle cx="420.3" cy="545.8" r="2.45" fill="#70788e"/>
<circle cx="428.7" cy="546.2" r="2.45" fill="#70788e"/>
<circle cx="370.7" cy="634.8" r="2.45" fill="#70788e"/>
<circle cx="339.7" cy="626.4" r="2.45" fill="#70788e"/>
<circle cx="275.3" cy="671.5" r="2.45" fill="#70788e"/>
<circle cx="399.5" cy="670.6" r="2.45" fill="#70788e"/>
<circle cx="258.5" cy="510.2" r="2.45" fill="#70788e"/>
<circle cx="697.7" cy="534.1" r="2.45" fill="#70788e"/>
<circle cx="120.5" cy="533.4" r="2.45" fill="#70788e"/>
<circle cx="641.8" cy="572.6" r="2.45" fill="#70788e"/>
<circle cx="705.5" cy="543.5" r="2.45" fill="#70788e"/>
<circle cx="637.6" cy="622.7" r="2.45" fill="#70788e"/>
<circle cx="239.8" cy="530.5" r="2.45" fill="#70788e"/>
<circle cx="387.2" cy="512.6" r="2.45" fill="#70788e"/>
<circle cx="168.3" cy="540.6" r="2.45" fill="#70788e"/>
<circle cx="466.0" cy="492.9" r="2.45" fill="#70788e"/>
<circle cx="707.8" cy="548.1" r="2.45" fill="#70788e"/>
<circle cx="470.3" cy="534.4" r="2.45" fill="#70788e"/>
<circle cx="570.8" cy="567.1" r="2.45" fill="#70788e"/>
<circle cx="251.0" cy="512.0" r="2.45" fill="#70788e"/>
<circle cx="249.5" cy="493.9" r="2.45" fill="#70788e"/>
<circle cx="607.0" cy="497.7" r="2.45" fill="#70788e"/>
<circle cx="177.8" cy="588.4" r="2.45" fill="#70788e"/>
<circle cx="378.1" cy="549.8" r="2.45" fill="#70788e"/>
<circle cx="710.1" cy="548.0" r="2.45" fill="#70788e"/>
<circle cx="429.0" cy="511.1" r="2.45" fill="#70788e"/>
<circle cx="151.3" cy="524.3" r="2.45" fill="#70788e"/>
<circle cx="552.1" cy="512.0" r="2.45" fill="#70788e"/>
<circle cx="160.4" cy="518.8" r="2.45" fill="#70788e"/>
<circle cx="394.5" cy="513.2" r="2.45" fill="#70788e"/>
<circle cx="583.4" cy="538.0" r="2.45" fill="#70788e"/>
<circle cx="88.3" cy="585.5" r="2.45" fill="#70788e"/>
<circle cx="261.7" cy="621.8" r="2.45" fill="#70788e"/>
<circle cx="159.7" cy="501.7" r="2.45" fill="#70788e"/>
<circle cx="648.1" cy="495.0" r="2.45" fill="#70788e"/>
<circle cx="434.2" cy="526.1" r="2.45" fill="#70788e"/>
<circle cx="303.5" cy="539.9" r="2.45" fill="#70788e"/>
<circle cx="83.4" cy="559.2" r="2.45" fill="#70788e"/>
<circle cx="685.1" cy="569.3" r="2.45" fill="#70788e"/>
<circle cx="339.4" cy="555.4" r="2.45" fill="#70788e"/>
<circle cx="76.2" cy="533.4" r="2.45" fill="#70788e"/>
<circle cx="666.0" cy="531.0" r="2.45" fill="#70788e"/>
<circle cx="644.7" cy="531.9" r="2.45" fill="#70788e"/>
<circle cx="589.6" cy="543.9" r="2.45" fill="#70788e"/>
<circle cx="685.4" cy="525.7" r="2.45" fill="#70788e"/>
<circle cx="376.5" cy="589.1" r="2.45" fill="#70788e"/>
<circle cx="306.2" cy="545.5" r="2.45" fill="#70788e"/>
<circle cx="252.6" cy="509.1" r="2.45" fill="#70788e"/>
<circle cx="574.2" cy="553.6" r="2.45" fill="#70788e"/>
<circle cx="208.9" cy="553.3" r="2.45" fill="#70788e"/>
<circle cx="171.1" cy="524.6" r="2.45" fill="#70788e"/>
<circle cx="693.1" cy="555.1" r="2.45" fill="#70788e"/>
<circle cx="123.4" cy="516.2" r="2.45" fill="#70788e"/>
<circle cx="401.9" cy="586.1" r="2.45" fill="#70788e"/>
<circle cx="90.5" cy="549.7" r="2.45" fill="#70788e"/>
<circle cx="129.0" cy="542.4" r="2.45" fill="#70788e"/>
<circle cx="209.9" cy="523.9" r="2.45" fill="#70788e"/>
<circle cx="174.1" cy="554.4" r="2.45" fill="#70788e"/>
<circle cx="70.2" cy="503.2" r="2.45" fill="#70788e"/>
<circle cx="150.7" cy="546.3" r="2.45" fill="#70788e"/>
<circle cx="226.3" cy="500.6" r="2.45" fill="#70788e"/>
<circle cx="602.3" cy="523.7" r="2.45" fill="#70788e"/>
<circle cx="603.1" cy="548.7" r="2.45" fill="#70788e"/>
<circle cx="582.3" cy="550.8" r="2.45" fill="#70788e"/>
<circle cx="684.3" cy="529.8" r="2.45" fill="#70788e"/>
<circle cx="185.4" cy="551.3" r="2.45" fill="#70788e"/>
<circle cx="198.1" cy="577.5" r="2.45" fill="#70788e"/>
<circle cx="348.0" cy="518.8" r="2.45" fill="#70788e"/>
<circle cx="220.4" cy="572.6" r="2.45" fill="#70788e"/>
<circle cx="645.2" cy="578.9" r="2.45" fill="#70788e"/>
<circle cx="210.8" cy="553.7" r="2.45" fill="#70788e"/>
<circle cx="451.5" cy="529.6" r="2.45" fill="#70788e"/>
<circle cx="128.7" cy="527.5" r="2.45" fill="#70788e"/>
<circle cx="388.2" cy="641.8" r="2.45" fill="#70788e"/>
<circle cx="560.2" cy="549.8" r="2.45" fill="#70788e"/>
<circle cx="302.9" cy="507.4" r="2.45" fill="#70788e"/>
<circle cx="253.7" cy="545.6" r="2.45" fill="#70788e"/>
<circle cx="306.3" cy="573.9" r="2.45" fill="#70788e"/>
<circle cx="612.9" cy="532.2" r="2.45" fill="#70788e"/>
<circle cx="260.5" cy="515.9" r="2.45" fill="#70788e"/>
<circle cx="420.7" cy="510.5" r="2.45" fill="#70788e"/>
<circle cx="287.4" cy="522.7" r="2.45" fill="#70788e"/>
<circle cx="90.8" cy="555.4" r="2.45" fill="#70788e"/>
<circle cx="254.0" cy="491.6" r="2.45" fill="#70788e"/>
<circle cx="315.2" cy="497.3" r="2.45" fill="#70788e"/>
<circle cx="651.4" cy="530.6" r="2.45" fill="#70788e"/>
<circle cx="619.8" cy="516.1" r="2.45" fill="#70788e"/>
<circle cx="134.9" cy="647.3" r="2.45" fill="#70788e"/>
<circle cx="280.7" cy="494.5" r="2.45" fill="#70788e"/>
<circle cx="321.4" cy="509.8" r="2.45" fill="#70788e"/>
<circle cx="212.2" cy="555.3" r="2.45" fill="#70788e"/>
<circle cx="610.1" cy="590.8" r="2.45" fill="#70788e"/>
<circle cx="167.8" cy="555.6" r="2.45" fill="#70788e"/>
<circle cx="123.6" cy="577.4" r="2.45" fill="#70788e"/>
<circle cx="73.6" cy="597.3" r="2.45" fill="#70788e"/>
<circle cx="154.7" cy="556.1" r="2.45" fill="#70788e"/>
<circle cx="300.2" cy="512.2" r="2.45" fill="#70788e"/>
<circle cx="73.1" cy="552.8" r="2.45" fill="#70788e"/>
<circle cx="166.5" cy="532.0" r="2.45" fill="#70788e"/>
<circle cx="605.2" cy="592.2" r="2.45" fill="#70788e"/>
<circle cx="216.4" cy="600.9" r="2.45" fill="#70788e"/>
<circle cx="336.2" cy="543.1" r="2.45" fill="#70788e"/>
<circle cx="47.6" cy="519.7" r="2.45" fill="#70788e"/>
<circle cx="601.8" cy="556.1" r="2.45" fill="#70788e"/>
<circle cx="75.6" cy="501.8" r="2.45" fill="#70788e"/>
<circle cx="615.0" cy="553.2" r="2.45" fill="#70788e"/>
<circle cx="209.6" cy="509.9" r="2.45" fill="#70788e"/>
<circle cx="120.9" cy="506.2" r="2.45" fill="#70788e"/>
<circle cx="655.1" cy="504.9" r="2.45" fill="#70788e"/>
<circle cx="234.0" cy="542.0" r="2.45" fill="#70788e"/>
<circle cx="328.9" cy="647.1" r="2.45" fill="#70788e"/>
<circle cx="665.6" cy="590.1" r="2.45" fill="#70788e"/>
<circle cx="598.9" cy="536.2" r="2.45" fill="#70788e"/>
<circle cx="464.7" cy="608.0" r="2.45" fill="#70788e"/>
<circle cx="387.4" cy="515.8" r="2.45" fill="#70788e"/>
<circle cx="664.2" cy="498.9" r="2.45" fill="#70788e"/>
<circle cx="76.1" cy="581.2" r="2.45" fill="#70788e"/>
<circle cx="220.7" cy="584.2" r="2.45" fill="#70788e"/>
<circle cx="470.9" cy="684.2" r="2.45" fill="#70788e"/>
<circle cx="408.7" cy="549.3" r="2.45" fill="#70788e"/>
<circle cx="285.0" cy="491.5" r="2.45" fill="#70788e"/>
<circle cx="320.7" cy="518.1" r="2.45" fill="#70788e"/>
<circle cx="137.8" cy="511.2" r="2.45" fill="#70788e"/>
<circle cx="205.2" cy="554.1" r="2.45" fill="#70788e"/>
<circle cx="342.9" cy="496.2" r="2.45" fill="#70788e"/>
<circle cx="669.3" cy="583.0" r="2.45" fill="#70788e"/>
<circle cx="635.3" cy="529.7" r="2.45" fill="#70788e"/>
<circle cx="141.4" cy="543.1" r="2.45" fill="#70788e"/>
<circle cx="589.2" cy="554.7" r="2.45" fill="#70788e"/>
<circle cx="411.6" cy="518.0" r="2.45" fill="#70788e"/>
<circle cx="353.7" cy="494.5" r="2.45" fill="#70788e"/>
<circle cx="556.5" cy="537.7" r="2.45" fill="#70788e"/>
<circle cx="239.4" cy="509.8" r="2.45" fill="#70788e"/>
<circle cx="286.7" cy="524.2" r="2.45" fill="#70788e"/>
<circle cx="233.8" cy="498.7" r="2.45" fill="#70788e"/>
<circle cx="178.1" cy="517.3" r="2.45" fill="#70788e"/>
<circle cx="122.1" cy="516.3" r="2.45" fill="#70788e"/>
<circle cx="262.8" cy="570.7" r="2.45" fill="#70788e"/>
<circle cx="158.8" cy="562.4" r="2.45" fill="#70788e"/>
<circle cx="94.8" cy="505.6" r="2.45" fill="#70788e"/>
<circle cx="102.8" cy="539.3" r="2.45" fill="#70788e"/>
<circle cx="523.9" cy="507.5" r="2.45" fill="#70788e"/>
<circle cx="372.1" cy="525.1" r="2.45" fill="#70788e"/>
<circle cx="335.8" cy="505.7" r="2.45" fill="#70788e"/>
<circle cx="52.5" cy="526.6" r="2.45" fill="#70788e"/>
<circle cx="658.5" cy="580.1" r="2.45" fill="#70788e"/>
<circle cx="668.9" cy="557.3" r="2.45" fill="#70788e"/>
<circle cx="210.6" cy="575.9" r="2.45" fill="#70788e"/>
<circle cx="562.0" cy="503.0" r="2.45" fill="#70788e"/>
<circle cx="605.3" cy="505.2" r="2.45" fill="#70788e"/>
<circle cx="471.3" cy="505.4" r="2.45" fill="#70788e"/>
<circle cx="609.4" cy="538.2" r="2.45" fill="#70788e"/>
<circle cx="568.8" cy="532.9" r="2.45" fill="#70788e"/>
<circle cx="599.2" cy="512.0" r="2.45" fill="#70788e"/>
<circle cx="169.7" cy="494.7" r="2.45" fill="#70788e"/>
<circle cx="595.8" cy="559.1" r="2.45" fill="#70788e"/>
<circle cx="413.5" cy="522.6" r="2.45" fill="#70788e"/>
<circle cx="292.6" cy="557.5" r="2.45" fill="#70788e"/>
<circle cx="74.4" cy="519.0" r="2.45" fill="#70788e"/>
<circle cx="424.0" cy="540.6" r="2.45" fill="#70788e"/>
<circle cx="516.2" cy="589.1" r="2.45" fill="#70788e"/>
<circle cx="675.4" cy="593.2" r="2.45" fill="#70788e"/>
<circle cx="151.7" cy="581.0" r="2.45" fill="#70788e"/>
<rect x="514.3" y="377.5" width="5.4" height="5.4" fill="#f7a51f"/>
<rect x="483.4" y="364.1" width="5.4" height="5.4" fill="#f7a51f"/>
<rect x="564.0" y="379.2" width="5.4" height="5.4" fill="#f7a51f"/>
<rect x="485.4" y="350.4" width="5.4" height="5.4" fill="#f7a51f"/>
<rect x="533.5" y="341.2" width="5.4" height="5.4" fill="#f7a51f"/>
<rect x="227.1" y="370.4" width="5.4" height="5.4" fill="#f7a51f"/>
<rect x="509.4" y="365.1" width="5.4" height="5.4" fill="#f7a51f"/>
<rect x="503.8" y="353.6" width="5.4" height="5.4" fill="#f7a51f"/>
<rect x="427.2" y="374.7" width="5.4" height="5.4" fill="#f7a51f"/>
<rect x="504.1" y="358.8" width="5.4" height="5.4" fill="#f7a51f"/>
<rect x="485.8" y="377.4" width="5.4" height="5.4" fill="#f7a51f"/>
<rect x="505.4" y="328.0" width="5.4" height="5.4" fill="#f7a51f"/>
<rect x="691.2" y="327.4" width="5.4" height="5.4" fill="#f7a51f"/>
<rect x="651.0" y="344.6" width="5.4" height="5.4" fill="#f7a51f"/>
<rect x="521.4" y="356.6" width="5.4" height="5.4" fill="#f7a51f"/>
<rect x="513.6" y="331.0" width="5.4" height="5.4" fill="#f7a51f"/>
<rect x="519.2" y="369.8" width="5.4" height="5.4" fill="#f7a51f"/>
<rect x="536.8" y="379.9" width="5.4" height="5.4" fill="#f7a51f"/>
<rect x="521.5" y="364.0" width="5.4" height="5.4" fill="#f7a51f"/>
<rect x="520.2" y="367.0" width="5.4" height="5.4" fill="#f7a51f"/>
<rect x="502.1" y="360.3" width="5.4" height="5.4" fill="#f7a51f"/>
<rect x="500.6" y="376.4" width="5.4" height="5.4" fill="#f7a51f"/>
<rect x="537.2" y="359.5" width="5.4" height="5.4" fill="#f7a51f"/>
<rect x="535.1" y="371.5" width="5.4" height="5.4" fill="#f7a51f"/>
<rect x="510.6" y="371.6" width="5.4" height="5.4" fill="#f7a51f"/>
<rect x="512.3" y="372.5" width="5.4" height="5.4" fill="#f7a51f"/>
<rect x="479.7" y="361.1" width="5.4" height="5.4" fill="#f7a51f"/>
<rect x="477.2" y="365.6" width="5.4" height="5.4" fill="#f7a51f"/>
<rect x="503.8" y="340.5" width="5.4" height="5.4" fill="#f7a51f"/>
<rect x="524.2" y="348.3" width="5.4" height="5.4" fill="#f7a51f"/>
<rect x="544.6" y="350.4" width="5.4" height="5.4" fill="#f7a51f"/>
<rect x="532.7" y="366.3" width="5.4" height="5.4" fill="#f7a51f"/>
<rect x="542.3" y="358.8" width="5.4" height="5.4" fill="#f7a51f"/>
<rect x="106.5" y="347.0" width="5.4" height="5.4" fill="#f7a51f"/>
<rect x="488.8" y="367.0" width="5.4" height="5.4" fill="#f7a51f"/>
<rect x="515.3" y="373.0" width="5.4" height="5.4" fill="#f7a51f"/>
<rect x="523.6" y="364.9" width="5.4" height="5.4" fill="#f7a51f"/>
<rect x="308.9" y="339.8" width="5.4" height="5.4" fill="#f7a51f"/>
<rect x="539.2" y="339.9" width="5.4" height="5.4" fill="#f7a51f"/>
<rect x="526.5" y="368.2" width="5.4" height="5.4" fill="#f7a51f"/>
<rect x="333.8" y="343.5" width="5.4" height="5.4" fill="#f7a51f"/>
<rect x="498.9" y="349.5" width="5.4" height="5.4" fill="#f7a51f"/>
<rect x="667.7" y="379.0" width="5.4" height="5.4" fill="#f7a51f"/>
<rect x="478.7" y="359.5" width="5.4" height="5.4" fill="#f7a51f"/>
<rect x="96.5" y="334.5" width="5.4" height="5.4" fill="#f7a51f"/>
<rect x="490.1" y="373.7" width="5.4" height="5.4" fill="#f7a51f"/>
<rect x="533.3" y="357.9" width="5.4" height="5.4" fill="#f7a51f"/>
<rect x="472.9" y="376.5" width="5.4" height="5.4" fill="#f7a51f"/>
<rect x="126.7" y="359.2" width="5.4" height="5.4" fill="#f7a51f"/>
<rect x="522.2" y="366.7" width="5.4" height="5.4" fill="#f7a51f"/>
<rect x="536.1" y="360.0" width="5.4" height="5.4" fill="#f7a51f"/>
<rect x="531.1" y="331.5" width="5.4" height="5.4" fill="#f7a51f"/>
<rect x="496.6" y="375.1" width="5.4" height="5.4" fill="#f7a51f"/>
<rect x="535.9" y="421.7" width="5.4" height="5.4" fill="#e3a684"/>
<rect x="484.8" y="420.1" width="5.4" height="5.4" fill="#e3a684"/>
<rect x="500.3" y="443.0" width="5.4" height="5.4" fill="#e3a684"/>
<rect x="533.8" y="447.2" width="5.4" height="5.4" fill="#e3a684"/>
<rect x="304.6" y="469.1" width="5.4" height="5.4" fill="#e3a684"/>
<rect x="487.3" y="412.4" width="5.4" height="5.4" fill="#e3a684"/>
<rect x="474.5" y="460.6" width="5.4" height="5.4" fill="#e3a684"/>
<rect x="505.9" y="437.3" width="5.4" height="5.4" fill="#e3a684"/>
<rect x="497.5" y="481.4" width="5.4" height="5.4" fill="#e3a684"/>
<rect x="496.0" y="477.3" width="5.4" height="5.4" fill="#e3a684"/>
<rect x="544.3" y="473.0" width="5.4" height="5.4" fill="#e3a684"/>
<rect x="521.0" y="453.8" width="5.4" height="5.4" fill="#e3a684"/>
<rect x="508.3" y="454.4" width="5.4" height="5.4" fill="#e3a684"/>
<rect x="510.4" y="403.3" width="5.4" height="5.4" fill="#e3a684"/>
<rect x="554.9" y="438.3" width="5.4" height="5.4" fill="#e3a684"/>
<rect x="414.0" y="423.9" width="5.4" height="5.4" fill="#e3a684"/>
<rect x="518.3" y="448.8" width="5.4" height="5.4" fill="#e3a684"/>
<rect x="530.2" y="414.8" width="5.4" height="5.4" fill="#e3a684"/>
<rect x="661.0" y="451.9" width="5.4" height="5.4" fill="#e3a684"/>
<rect x="358.4" y="441.2" width="5.4" height="5.4" fill="#e3a684"/>
<rect x="497.2" y="438.9" width="5.4" height="5.4" fill="#e3a684"/>
<rect x="475.8" y="450.1" width="5.4" height="5.4" fill="#e3a684"/>
<rect x="544.4" y="442.7" width="5.4" height="5.4" fill="#e3a684"/>
<rect x="489.3" y="456.1" width="5.4" height="5.4" fill="#e3a684"/>
<rect x="481.3" y="480.9" width="5.4" height="5.4" fill="#e3a684"/>
<rect x="238.7" y="444.6" width="5.4" height="5.4" fill="#e3a684"/>
<rect x="493.7" y="460.7" width="5.4" height="5.4" fill="#e3a684"/>
<rect x="493.6" y="451.7" width="5.4" height="5.4" fill="#e3a684"/>
<rect x="512.1" y="406.6" width="5.4" height="5.4" fill="#e3a684"/>
<rect x="539.5" y="437.0" width="5.4" height="5.4" fill="#e3a684"/>
<rect x="484.5" y="437.1" width="5.4" height="5.4" fill="#e3a684"/>
<rect x="607.8" y="423.9" width="5.4" height="5.4" fill="#e3a684"/>
<rect x="535.6" y="470.0" width="5.4" height="5.4" fill="#e3a684"/>
<rect x="537.8" y="453.6" width="5.4" height="5.4" fill="#e3a684"/>
<rect x="473.0" y="461.0" width="5.4" height="5.4" fill="#e3a684"/>
<rect x="523.4" y="457.2" width="5.4" height="5.4" fill="#e3a684"/>
<rect x="486.1" y="435.8" width="5.4" height="5.4" fill="#e3a684"/>
<rect x="320.2" y="458.6" width="5.4" height="5.4" fill="#e3a684"/>
<rect x="542.6" y="435.9" width="5.4" height="5.4" fill="#e3a684"/>
<rect x="531.2" y="414.5" width="5.4" height="5.4" fill="#e3a684"/>
<rect x="481.4" y="459.3" width="5.4" height="5.4" fill="#e3a684"/>
<rect x="536.1" y="433.5" width="5.4" height="5.4" fill="#e3a684"/>
<rect x="584.1" y="450.7" width="5.4" height="5.4" fill="#e3a684"/>
<rect x="519.3" y="446.6" width="5.4" height="5.4" fill="#e3a684"/>
<rect x="496.3" y="471.3" width="5.4" height="5.4" fill="#e3a684"/>
<rect x="474.7" y="434.3" width="5.4" height="5.4" fill="#e3a684"/>
<rect x="507.9" y="436.1" width="5.4" height="5.4" fill="#e3a684"/>
<rect x="505.6" y="479.0" width="5.4" height="5.4" fill="#e3a684"/>
<rect x="641.8" y="395.9" width="5.4" height="5.4" fill="#e3a684"/>
<rect x="516.7" y="427.7" width="5.4" height="5.4" fill="#e3a684"/>
<rect x="478.2" y="461.7" width="5.4" height="5.4" fill="#e3a684"/>
<rect x="528.1" y="467.6" width="5.4" height="5.4" fill="#e3a684"/>
<rect x="226.2" y="439.6" width="5.4" height="5.4" fill="#e3a684"/>
<rect x="512.4" y="432.3" width="5.4" height="5.4" fill="#e3a684"/>
<rect x="495.8" y="426.5" width="5.4" height="5.4" fill="#e3a684"/>
<rect x="523.9" y="424.8" width="5.4" height="5.4" fill="#e3a684"/>
<rect x="178.6" y="424.0" width="5.4" height="5.4" fill="#e3a684"/>
<rect x="623.6" y="453.4" width="5.4" height="5.4" fill="#e3a684"/>
<rect x="540.9" y="463.6" width="5.4" height="5.4" fill="#e3a684"/>
<rect x="506.5" y="432.5" width="5.4" height="5.4" fill="#e3a684"/>
<rect x="200.8" y="395.2" width="5.4" height="5.4" fill="#e3a684"/>
<rect x="527.3" y="467.6" width="5.4" height="5.4" fill="#e3a684"/>
<rect x="481.2" y="471.0" width="5.4" height="5.4" fill="#e3a684"/>
<rect x="512.4" y="459.7" width="5.4" height="5.4" fill="#e3a684"/>
<rect x="609.3" y="462.2" width="5.4" height="5.4" fill="#e3a684"/>
<rect x="525.9" y="408.9" width="5.4" height="5.4" fill="#e3a684"/>
<rect x="473.4" y="423.6" width="5.4" height="5.4" fill="#e3a684"/>
<rect x="544.0" y="441.8" width="5.4" height="5.4" fill="#e3a684"/>
<rect x="496.8" y="421.7" width="5.4" height="5.4" fill="#e3a684"/>
<rect x="495.3" y="411.2" width="5.4" height="5.4" fill="#e3a684"/>
<rect x="525.6" y="470.3" width="5.4" height="5.4" fill="#e3a684"/>
<rect x="501.0" y="415.7" width="5.4" height="5.4" fill="#e3a684"/>
<rect x="513.1" y="446.4" width="5.4" height="5.4" fill="#e3a684"/>
<rect x="704.3" y="434.3" width="5.4" height="5.4" fill="#e3a684"/>
<rect x="489.9" y="454.4" width="5.4" height="5.4" fill="#e3a684"/>
<rect x="488.4" y="458.2" width="5.4" height="5.4" fill="#e3a684"/>
<rect x="518.9" y="452.3" width="5.4" height="5.4" fill="#e3a684"/>
<rect x="584.8" y="437.8" width="5.4" height="5.4" fill="#e3a684"/>
<rect x="535.2" y="415.1" width="5.4" height="5.4" fill="#e3a684"/>
<rect x="526.9" y="419.7" width="5.4" height="5.4" fill="#e3a684"/>
<rect x="495.8" y="442.5" width="5.4" height="5.4" fill="#e3a684"/>
<rect x="116.8" y="490.2" width="5.4" height="5.4" fill="#de7e38"/>
<rect x="514.2" y="513.4" width="5.4" height="5.4" fill="#de7e38"/>
<rect x="137.0" y="544.1" width="5.4" height="5.4" fill="#de7e38"/>
<rect x="410.2" y="520.2" width="5.4" height="5.4" fill="#de7e38"/>
<rect x="535.2" y="516.9" width="5.4" height="5.4" fill="#de7e38"/>
<rect x="479.6" y="526.4" width="5.4" height="5.4" fill="#de7e38"/>
<rect x="550.8" y="489.5" width="5.4" height="5.4" fill="#de7e38"/>
<rect x="478.5" y="510.3" width="5.4" height="5.4" fill="#de7e38"/>
<rect x="521.8" y="502.0" width="5.4" height="5.4" fill="#de7e38"/>
<rect x="666.8" y="523.1" width="5.4" height="5.4" fill="#de7e38"/>
<rect x="458.8" y="510.5" width="5.4" height="5.4" fill="#de7e38"/>
<rect x="337.5" y="520.7" width="5.4" height="5.4" fill="#de7e38"/>
<rect x="508.7" y="495.1" width="5.4" height="5.4" fill="#de7e38"/>
<rect x="472.8" y="493.8" width="5.4" height="5.4" fill="#de7e38"/>
<rect x="601.2" y="536.1" width="5.4" height="5.4" fill="#de7e38"/>
<rect x="481.3" y="504.9" width="5.4" height="5.4" fill="#de7e38"/>
<rect x="484.5" y="504.2" width="5.4" height="5.4" fill="#de7e38"/>
<rect x="508.4" y="498.4" width="5.4" height="5.4" fill="#de7e38"/>
<rect x="497.5" y="511.9" width="5.4" height="5.4" fill="#de7e38"/>
<rect x="487.2" y="589.8" width="5.4" height="5.4" fill="#de7e38"/>
<rect x="694.1" y="490.7" width="5.4" height="5.4" fill="#de7e38"/>
<rect x="490.9" y="492.5" width="5.4" height="5.4" fill="#de7e38"/>
<rect x="474.5" y="524.2" width="5.4" height="5.4" fill="#de7e38"/>
<rect x="498.1" y="534.6" width="5.4" height="5.4" fill="#de7e38"/>
<rect x="522.2" y="490.9" width="5.4" height="5.4" fill="#de7e38"/>
<rect x="522.4" y="520.8" width="5.4" height="5.4" fill="#de7e38"/>
<rect x="692.6" y="534.9" width="5.4" height="5.4" fill="#de7e38"/>
<rect x="502.3" y="497.5" width="5.4" height="5.4" fill="#de7e38"/>
<rect x="612.8" y="533.1" width="5.4" height="5.4" fill="#de7e38"/>
<rect x="545.2" y="523.3" width="5.4" height="5.4" fill="#de7e38"/>
<rect x="516.3" y="519.0" width="5.4" height="5.4" fill="#de7e38"/>
<rect x="499.2" y="519.4" width="5.4" height="5.4" fill="#de7e38"/>
<rect x="486.0" y="503.8" width="5.4" height="5.4" fill="#de7e38"/>
<rect x="429.1" y="553.3" width="5.4" height="5.4" fill="#de7e38"/>
<rect x="522.7" y="546.5" width="5.4" height="5.4" fill="#de7e38"/>
<rect x="494.7" y="517.7" width="5.4" height="5.4" fill="#de7e38"/>
<rect x="549.5" y="546.6" width="5.4" height="5.4" fill="#de7e38"/>
<rect x="515.1" y="490.4" width="5.4" height="5.4" fill="#de7e38"/>
<rect x="587.7" y="577.1" width="5.4" height="5.4" fill="#de7e38"/>
<rect x="524.0" y="539.6" width="5.4" height="5.4" fill="#de7e38"/>
<rect x="510.2" y="542.6" width="5.4" height="5.4" fill="#de7e38"/>
<rect x="517.8" y="540.0" width="5.4" height="5.4" fill="#de7e38"/>
<rect x="487.8" y="532.7" width="5.4" height="5.4" fill="#de7e38"/>
<rect x="626.9" y="515.3" width="5.4" height="5.4" fill="#de7e38"/>
<rect x="509.9" y="511.4" width="5.4" height="5.4" fill="#de7e38"/>
<rect x="539.9" y="520.0" width="5.4" height="5.4" fill="#de7e38"/>
<rect x="510.1" y="493.0" width="5.4" height="5.4" fill="#de7e38"/>
<rect x="484.1" y="570.1" width="5.4" height="5.4" fill="#de7e38"/>
<rect x="241.7" y="502.6" width="5.4" height="5.4" fill="#de7e38"/>
<rect x="412.0" y="542.2" width="5.4" height="5.4" fill="#de7e38"/>
<rect x="499.5" y="553.9" width="5.4" height="5.4" fill="#de7e38"/>
<rect x="482.7" y="529.6" width="5.4" height="5.4" fill="#de7e38"/>
<rect x="478.9" y="561.0" width="5.4" height="5.4" fill="#de7e38"/>
<rect x="504.8" y="539.1" width="5.4" height="5.4" fill="#de7e38"/>
<rect x="500.6" y="552.3" width="5.4" height="5.4" fill="#de7e38"/>
<rect x="506.7" y="558.1" width="5.4" height="5.4" fill="#de7e38"/>
<rect x="366.5" y="489.6" width="5.4" height="5.4" fill="#de7e38"/>
<rect x="509.8" y="528.6" width="5.4" height="5.4" fill="#de7e38"/>
<rect x="498.7" y="543.6" width="5.4" height="5.4" fill="#de7e38"/>
<rect x="486.2" y="512.1" width="5.4" height="5.4" fill="#de7e38"/>
<rect x="475.6" y="525.8" width="5.4" height="5.4" fill="#de7e38"/>
<rect x="495.3" y="519.7" width="5.4" height="5.4" fill="#de7e38"/>
  </g>

  <!-- highlighted points -->
  <circle cx="691.8" cy="302.8" r="3.6" fill="#6fb52c"/>
  <rect x="631.5" y="307" width="6" height="9" fill="#b9783c"/>
  <rect x="531" y="303" width="5" height="4" fill="#e9a46a" opacity=".8"/>

  <!-- callouts -->
  <g fill="#fffbe0" fill-opacity=".88" stroke="#111" stroke-width=".9" stroke-linejoin="miter">
    <path d="M412.5 287.5H528V300L532.5 303.5L528 306.5V310.5H412.5Z"/>
    <path d="M549 285.5H683.5V295.5L688.5 299L683.5 302.5V305H549Z"/>
    <path d="M534.5 306.5H631.5V318.5L636 322L631.5 325V328.5H534.5Z"/>
    <path d="M638.5 306.5H717.5V329.5H638.5V325L634.5 322L638.5 318.5Z"/>
  </g>
  <g font-size="9" font-weight="700" fill="#1a1a1a" text-anchor="middle">
    <text x="470" y="296" textLength="99" lengthAdjust="spacingAndGlyphs">Universidade de Sao Paulo</text>
    <text x="470" y="308.2" textLength="37" lengthAdjust="spacingAndGlyphs">USP: 9450</text>
    <text x="616.2" y="299" textLength="117" lengthAdjust="spacingAndGlyphs">Highest Total Score 2024 : 9575</text>
    <text x="582.3" y="314.6" textLength="48" lengthAdjust="spacingAndGlyphs">University of</text>
    <text x="582.3" y="327" textLength="83" lengthAdjust="spacingAndGlyphs">California, Davis: 9425</text>
    <text x="677.7" y="315" textLength="48" lengthAdjust="spacingAndGlyphs">University of</text>
    <text x="677.7" y="327.6" textLength="66" lengthAdjust="spacingAndGlyphs">Connecticut: 9375</text>
  </g>

  <rect x="792" y="473" width="39" height="55" fill="#fff" opacity=".75"/>
  <!-- legend -->
  <circle cx="724" cy="480.3" r="2.2" fill="#4472c4"/>
  <text x="728" y="483" font-size="8" font-weight="700" fill="#222" textLength="20" lengthAdjust="spacingAndGlyphs">World</text>
  <rect x="721.5" y="499.5" width="4.6" height="5.4" fill="#ed7d31"/>
  <text x="728" y="505.3" font-size="8" font-weight="700" fill="#222" textLength="44.5" lengthAdjust="spacingAndGlyphs">North &amp; Latin</text>
  <text x="728" y="516.6" font-size="8" font-weight="700" fill="#222" textLength="27" lengthAdjust="spacingAndGlyphs">America</text>

  <!-- rotated cluster labels -->
  <g fill="#111" text-anchor="middle">
    <text transform="translate(804.8 311.5) rotate(90)" font-size="7.6" font-weight="700" textLength="44" lengthAdjust="spacingAndGlyphs">Gold Cluster</text>
    <text transform="translate(795 313) rotate(90)" font-size="7.2" fill="#333" textLength="42" lengthAdjust="spacingAndGlyphs">7501-10000</text>
    <text transform="translate(804.8 421) rotate(90)" font-size="7.6" font-weight="700" textLength="48" lengthAdjust="spacingAndGlyphs">Silver Cluster</text>
    <text transform="translate(795 421) rotate(90)" font-size="7.2" fill="#333" textLength="36" lengthAdjust="spacingAndGlyphs">5001-7500</text>
    <text transform="translate(804.8 562) rotate(90)" font-size="7.6" font-weight="700" textLength="53" lengthAdjust="spacingAndGlyphs">Bronze Cluster</text>
    <text transform="translate(795 562) rotate(90)" font-size="7.2" fill="#333" textLength="24" lengthAdjust="spacingAndGlyphs">0-5000</text>
  </g>

  <!-- right text column -->
  <g fill="#353535" font-size="18">
    <text x="846" y="281.5" font-weight="700" font-size="18.2" textLength="277.5" lengthAdjust="spacingAndGlyphs">2024 Participants Performance:</text>

    <circle cx="849.3" cy="327.5" r="2.3"/>
    <text x="864" y="333.2" font-weight="700" font-size="18.2" textLength="113.5" lengthAdjust="spacingAndGlyphs">Gold Cluster:</text>
    <text x="846" y="358.6" textLength="268" lengthAdjust="spacingAndGlyphs">World: 258 Universities (21.81%)</text>
    <text x="846" y="385.2" textLength="280" lengthAdjust="spacingAndGlyphs">NA &amp; LA: 53 Universities (27.04%)</text>

    <circle cx="849.3" cy="431" r="2.3"/>
    <text x="864" y="436.8" font-weight="700" font-size="18.2" textLength="121.5" lengthAdjust="spacingAndGlyphs">Silver Cluster:</text>
    <text x="846" y="462.3" textLength="268" lengthAdjust="spacingAndGlyphs">World: 530 Universities (44.80%)</text>
    <text x="846" y="488.4" textLength="280" lengthAdjust="spacingAndGlyphs">NA &amp; LA: 81 Universities (41.33%)</text>

    <circle cx="849.3" cy="534.5" r="2.3"/>
    <text x="864" y="540.3" font-weight="700" font-size="18.2" textLength="134" lengthAdjust="spacingAndGlyphs">Bronze Cluster:</text>
    <text x="846" y="565.9" textLength="268" lengthAdjust="spacingAndGlyphs">World: 395 Universities (33.39%)</text>
    <text x="846" y="591.8" textLength="280" lengthAdjust="spacingAndGlyphs">NA &amp; LA: 62 Universities (31.63%)</text>
  </g>

  <!-- footer -->
  <text x="987.8" y="726.2" font-size="11.6" fill="#222">9</text>
  <g id="minilogo">
    <defs>
      <linearGradient id="uiY" x1="0" y1="0" x2="0" y2="1"><stop offset="0" stop-color="#f3d522"/><stop offset=".55" stop-color="#f9e650"/><stop offset="1" stop-color="#fdf28c"/></linearGradient>
      <radialGradient id="globeG" cx=".4" cy=".35" r=".75"><stop offset="0" stop-color="#3cb043"/><stop offset="1" stop-color="#118a3a"/></radialGradient>
    </defs>
    <text x="1005.5" y="728.3" font-size="17" font-weight="700" fill="url(#uiY)" textLength="15.5" lengthAdjust="spacingAndGlyphs">UI</text>
    <circle cx="1017.4" cy="711.8" r="6" fill="url(#globeG)"/>
    <path d="M1012.3 709.5q2-3.8 5.6-3.6l.9 2.2-1.8 1.4.3 2.6-2.1 1.7-1.5-.6z" fill="#b5d61c"/>
    <text x="1021.5" y="722" font-size="7.6" fill="#86aa3c" textLength="19.5" lengthAdjust="spacingAndGlyphs">Green</text>
    <text x="1021.5" y="728.5" font-size="7.6" fill="#86aa3c" textLength="19.5" lengthAdjust="spacingAndGlyphs">Metric</text>
    <text x="1008" y="731.7" font-size="2.6" font-weight="700" fill="#444" textLength="32" lengthAdjust="spacingAndGlyphs">World University Rankings</text>
  </g>
  <text x="1047.2" y="723.4" font-size="7.6" font-weight="700" fill="#111" textLength="75" lengthAdjust="spacingAndGlyphs">UI GreenMetric 2025</text>
</svg>

<!-- ================= speaker video ================= -->
<div id="video" class="abs">
<svg width="750" height="422" viewBox="0 0 750 422" font-family="Liberation Sans, sans-serif">
  <defs>
    <linearGradient id="vbg" gradientUnits="userSpaceOnUse" x1="0" y1="0" x2="701.6" y2="491.1">
      <stop offset="0" stop-color="#19a47e"/><stop offset=".112" stop-color="#1fa870"/><stop offset=".265" stop-color="#39b250"/>
      <stop offset=".503" stop-color="#52b944"/><stop offset=".664" stop-color="#6cc030"/><stop offset=".72" stop-color="#80c42b"/>
      <stop offset=".80" stop-color="#96ca1c"/><stop offset=".93" stop-color="#b0d20e"/><stop offset="1" stop-color="#b6d40a"/>
    </linearGradient>
    <linearGradient id="vbg2" x1="0" y1="0" x2="0" y2="1"><stop offset=".35" stop-color="#c8e000" stop-opacity="0"/><stop offset="1" stop-color="#c8e000" stop-opacity=".16"/></linearGradient>
    <filter id="soft" x="-10%" y="-10%" width="120%" height="120%"><feGaussianBlur stdDeviation="1.1"/></filter>
    <filter id="soft2" x="-10%" y="-10%" width="120%" height="120%"><feGaussianBlur stdDeviation="0.6"/></filter>
    <linearGradient id="uiY2" x1="0" y1="0" x2="0" y2="1"><stop offset="0" stop-color="#f1cf1c"/><stop offset=".5" stop-color="#f8e243"/><stop offset="1" stop-color="#fdf188"/></linearGradient>
    <radialGradient id="globe2" cx=".42" cy=".35" r=".8"><stop offset="0" stop-color="#36ab40"/><stop offset="1" stop-color="#0f8a3a"/></radialGradient>
    <radialGradient id="faceG" cx=".56" cy=".42" r=".62"><stop offset="0" stop-color="#d8c0ad"/><stop offset=".55" stop-color="#c6a993"/><stop offset="1" stop-color="#9f806c"/></radialGradient>
    <linearGradient id="foreG" gradientUnits="userSpaceOnUse" x1="0" y1="80" x2="0" y2="185"><stop offset="0" stop-color="#4a423e" stop-opacity=".62"/><stop offset=".45" stop-color="#5a4e48" stop-opacity=".38"/><stop offset="1" stop-color="#5a4e48" stop-opacity="0"/></linearGradient>
    <linearGradient id="handG" x1="0" y1="0" x2="0" y2="1"><stop offset="0" stop-color="#ead6c2"/><stop offset=".6" stop-color="#dcc2ad"/><stop offset="1" stop-color="#c2a28e"/></linearGradient>
    <linearGradient id="hijabG" x1="0" y1="0" x2="1" y2="1"><stop offset="0" stop-color="#1d1d22"/><stop offset=".5" stop-color="#121216"/><stop offset="1" stop-color="#0c0c0f"/></linearGradient>
    <pattern id="batikRed" width="17" height="17" patternUnits="userSpaceOnUse" patternTransform="rotate(20)">
      <rect width="17" height="17" fill="#1c1820"/>
      <path d="M8.5 2l1.6 4 4-1.4-2.2 3.9 3.6 2-4.2.6.4 4.4-3.2-3.1-3.2 3.1.4-4.4-4.2-.6 3.6-2-2.2-3.9 4 1.4z" fill="#7f2b38"/>
    </pattern>
    <pattern id="batikBW" width="14" height="12" patternUnits="userSpaceOnUse" patternTransform="rotate(-25)">
      <rect width="14" height="12" fill="#1b1a1c"/>
      <path d="M1 3q3-3 6 0t6 0M1 9q3-3 6 0t6 0" stroke="#b9b4ad" stroke-width="2.2" fill="none"/>
    </pattern>
    <pattern id="batikGray" width="13" height="13" patternUnits="userSpaceOnUse" patternTransform="rotate(35)">
      <rect width="13" height="13" fill="#1d1b1b"/>
      <ellipse cx="4" cy="4" rx="3.4" ry="2" fill="#6d665e"/><ellipse cx="10" cy="10" rx="3" ry="1.8" fill="#857d73"/>
    </pattern>
    <clipPath id="vclip"><rect width="750" height="422"/></clipPath>
  </defs>
  <g clip-path="url(#vclip)">
  <rect width="750" height="422" fill="url(#vbg)"/>
  <!-- faint light streaks -->
  <g stroke="#ffffff" stroke-opacity=".11" fill="none" stroke-width=".9">
    <path d="M-40.0 422C40.0 300 150.0 170 262.0 0"/>
    <path d="M-33.0 422C45.1 300 153.8 170 265.5 0"/>
    <path d="M-25.9 422C50.2 300 157.7 170 269.0 0"/>
    <path d="M-18.9 422C55.4 300 161.5 170 272.6 0"/>
    <path d="M-11.8 422C60.5 300 165.4 170 276.1 0"/>
    <path d="M-4.8 422C65.6 300 169.2 170 279.6 0"/>
    <path d="M2.2 422C70.7 300 173.0 170 283.1 0"/>
    <path d="M9.3 422C75.8 300 176.9 170 286.6 0"/>
    <path d="M16.3 422C81.0 300 180.7 170 290.2 0"/>
    <path d="M0 215.0C90 185.0 190 110.0 300 0.0"/>
    <path d="M0 207.0C90 179.0 190 106.0 300 0.0"/>
    <path d="M0 199.0C90 173.0 190 102.0 300 0.0"/>
    <path d="M0 191.0C90 167.0 190 98.0 300 0.0"/>
    <path d="M0 183.0C90 161.0 190 94.0 300 0.0"/>
    <path d="M0 175.0C90 155.0 190 90.0 300 0.0"/>
    <path d="M0 6L26 58"/>
  </g>
  <path d="M0 60L300 130L300 175L0 105Z" fill="#fff" opacity=".025"/>

  <!-- logo card -->
  <path d="M24 0H151V76a14 14 0 0 1-14 14H38a14 14 0 0 1-14-14Z" fill="#f0f0f0"/>
  <text x="42.5" y="68" font-size="45" font-weight="700" fill="url(#uiY2)" textLength="38" lengthAdjust="spacingAndGlyphs">UI</text>
  <circle cx="71" cy="25.3" r="15.3" fill="url(#globe2)"/>
  <path d="M58.5 20.5q3.5-8.5 13-9.8l5.5 1.3-3.4 4.8 1 4-4 3.2.8 5.2-3.6 3.8-2.3-4.6-4.6-2.2z" fill="#b7d61a"/>
  <ellipse cx="74" cy="35.5" rx="3.4" ry="2.2" fill="#c3dc2a"/>
  <text x="82" y="52.6" font-size="19.5" fill="#86a93a" textLength="49.5" lengthAdjust="spacingAndGlyphs">Green</text>
  <text x="82" y="67.7" font-size="19.5" fill="#86a93a" textLength="49.5" lengthAdjust="spacingAndGlyphs">Metric</text>
  <text x="46.7" y="75.2" font-size="6.3" font-weight="700" fill="#1e1e1e" textLength="82.3" lengthAdjust="spacingAndGlyphs">World University Rankings</text>

  <!-- icon strip -->
  <rect x="383" y="11.5" width="367" height="69.5" fill="#ffffff" fill-opacity=".2"/>
  <g id="icons" fill="#f4f6f2" stroke="none">
    <!-- 1 buildings -->
    <g>
      <rect x="399.6" y="66.6" width="43.2" height="3.6"/>
      <path d="M419 24.6L420 23.2L431.2 27.6V67H419Z"/>
      <path d="M413.2 28.8L419 24.6V67H413.2Z" fill="none" stroke="#f4f6f2" stroke-width="1.2"/>
      <g fill="#67bd57"><rect x="422.3" y="29" width="1.6" height="2.2"/><rect x="426.8" y="30.6" width="1.6" height="2.2"/><rect x="422.3" y="34.5" width="1.6" height="2.2"/><rect x="426.8" y="36.1" width="1.6" height="2.2"/><rect x="422.3" y="40" width="1.6" height="2.2"/><rect x="426.8" y="41.6" width="1.6" height="2.2"/><rect x="422.3" y="45.5" width="1.6" height="2.2"/><rect x="422.3" y="51" width="1.6" height="2.2"/><rect x="422.3" y="56.5" width="1.6" height="2.2"/></g>
      <path d="M406.9 42L412.9 44.6V67H406.9Z"/>
      <path d="M401.2 46.6L406.9 42V67H401.2Z" fill="none" stroke="#f4f6f2" stroke-width="1.2"/>
      <path d="M434.4 45L441.8 49.3V67H434.4Z"/>
      <path d="M428.8 48.8L434.4 45V67H428.8Z" fill="none" stroke="#f4f6f2" stroke-width="1.2"/>
    </g>
    <!-- 2 globe + thermometer -->
    <g>
      <circle cx="478.5" cy="46.6" r="19" fill="none" stroke="#f4f6f2" stroke-width="1.5"/>
      <path d="M460.2 50.8A19 19 0 0 1 479.5 27.6C478 31 481 33.5 484.5 35.5C486 38.5 481 39.5 476.8 41.2C474.5 43.5 477.5 45 480.5 46.2C481 49 478 50.5 474 50.8Z"/>
      <path d="M486 46.5C489 46 492 47 493.5 49V61.5C490 65 485 66.5 481.5 65.3C483 62 481 60 477.5 58.5C475.5 56 478 54.5 481.5 54C485.5 53.5 487.5 52 485 49.8C483.5 48.5 484.5 47 486 46.5Z"/>
      <path d="M494.3 29.6a2.8 2.8 0 0 1 5.6 0V58.2a4.6 4.6 0 1 1-5.6 0Z" fill="#7cc653" stroke="#f4f6f2" stroke-width="1.4"/>
      <circle cx="497.1" cy="62.2" r="2" />
      <path d="M497.1 60V36" stroke="#f4f6f2" stroke-width="1" />
    </g>
    <!-- 3 recycling bins -->
    <g>
      <g><path d="M518.4 39.4h13.6v3.4h-.8l-.9 24.2h-10.2l-.9-24.2h-.8z" fill-opacity=".92"/><path d="M525.2 51.5l2.8 5h-5.6z" fill="none" stroke="#a8d68e" stroke-width=".8"/></g>
      <g transform="translate(16.1 0)"><path d="M518.4 39.4h13.6v3.4h-.8l-.9 24.2h-10.2l-.9-24.2h-.8z" fill-opacity=".92"/><path d="M525.2 51.5l2.8 5h-5.6z" fill="none" stroke="#a8d68e" stroke-width=".8"/></g>
      <g transform="translate(31.6 0)"><path d="M518.4 39.4h13.6v3.4h-.8l-.9 24.2h-10.2l-.9-24.2h-.8z" fill-opacity=".92"/><path d="M525.2 51.5l2.8 5h-5.6z" fill="none" stroke="#a8d68e" stroke-width=".8"/></g>
      <path d="M522.5 38.5l2.2-6 4.2-4.5 1.6-1.4.9.9-1.2 2.2-1.2 5.4-2.3 5.2z"/>
      <path d="M536.5 35.5l7.5-9 5.6 4.7-6 10.2z"/>
      <path d="M554.5 39l2.4-5 4.6-5.2 1.5-1.2.8.9-1.2 2-2.4 5.6-2 3.6z"/>
    </g>
    <!-- 4 water drops -->
    <g fill="none" stroke="#f4f6f2" stroke-width="1.5" stroke-linecap="round">
      <path d="M593.1 31.2C589 39 580.8 49 580.8 57a12.3 12.3 0 0 0 24.6 0C605.4 49 597.2 39 593.1 31.2Z"/>
      <path d="M593.8 61.6l5-5.4"/>
      <path d="M610.6 23.6C608.2 28 603.6 33.4 603.6 38a7 7 0 0 0 14 0C617.6 33.4 613 28 610.6 23.6Z"/>
      <path d="M610.4 40.4l2.8-2.8"/>
    </g>
    <!-- 5 walk / bus / bike -->
    <g>
      <circle cx="647.8" cy="32.4" r="3.5"/>
      <path d="M643.8 37.6l5.2-.8 3 1.4 4 7.6 5 1.2-.4 1.8-6-.8-2.6-3.4-.8 7 3.4 6 .2 9.4h-2.6l-.6-8.2-3.8-5.4-2.4 7.4-6 7-2.2-1.6 5.4-7.2 1.8-12.6-2.6 2-1.6 5.2-2-.6 1.4-6.2z"/>
      <g fill="none" stroke="#f4f6f2" stroke-width="1.3">
        <rect x="657" y="25" width="17.6" height="19" rx="2.6"/>
        <path d="M657 37.4h17.6M660.2 44v2.4M671.4 44v2.4"/>
        <circle cx="653" cy="60.6" r="6.8"/><circle cx="676.4" cy="60.6" r="6.8"/>
        <path d="M653 60.6l8-12.4h11l4.4 12.4M661 48.2l4.6 12.4h-12.6M665.6 60.6l6.4-12.4M659.4 46.8h4M670 47h5"/>
      </g>
      <path d="M658.2 38.4h15.2v4.4h-15.2z" fill-opacity=".85"/>
    </g>
    <!-- 6 document + magnifier -->
    <g>
      <path d="M708 26.4h20.6l6.2 5.8V66H708Z" fill="none" stroke="#f4f6f2" stroke-width="1.4"/>
      <path d="M706.8 28.6V67.4h27" fill="none" stroke="#f4f6f2" stroke-width="1.2"/>
      <path d="M728.6 26.4v5.8h6.2" fill="none" stroke="#f4f6f2" stroke-width="1.1"/>
      <g stroke="#f4f6f2" stroke-width="1.5" stroke-opacity=".85"><path d="M727.5 35.6h5M728.5 39.4h4M728.5 43.2h4M727 47h5.5M724 50.8h8.5M711.5 54.8h21M711.5 58.6h21"/></g>
      <circle cx="717" cy="42.6" r="8" fill="#9ad06a" fill-opacity=".55" stroke="#f4f6f2" stroke-width="2"/>
      <path d="M711.2 48.8L702.6 57.6" stroke="#f4f6f2" stroke-width="2.6" stroke-linecap="round"/>
      <path d="M712.6 41.2a4.6 4.6 0 0 1 3.4-3.4" fill="none" stroke="#f4f6f2" stroke-width="1"/>
    </g>
  </g>

  <!-- event text -->
  <text x="15" y="287.6" font-size="19.6" font-weight="700" fill="#06562f" stroke="#06562f" stroke-width=".6" textLength="182" lengthAdjust="spacingAndGlyphs">28-30 JULY 2025</text>
  <text x="14.5" y="326.6" font-size="37" font-weight="700" fill="#f3f5f1" stroke="#f3f5f1" stroke-width="1" textLength="301" lengthAdjust="spacingAndGlyphs">UI GREENMETRIC</text>
  <text x="14.5" y="370" font-size="37" font-weight="700" fill="#f3f5f1" stroke="#f3f5f1" stroke-width="1" textLength="190" lengthAdjust="spacingAndGlyphs">REGIONAL</text>

  <!-- white footer bar -->
  <rect x="0" y="388.5" width="750" height="34" fill="#ffffff"/>
  <text x="20" y="411" font-size="13" fill="#8a8a8a">UI GreenMetric</text>
  <circle cx="112" cy="406" r="5.5" fill="#555"/><rect x="121" y="400.5" width="11" height="11" rx="2" fill="#444"/>
  <text x="594.4" y="409.3" font-size="15.4" font-weight="700" fill="#151515" textLength="142.5" lengthAdjust="spacingAndGlyphs">greenmetric.ui.ac.id</text>

  <!-- ===== speaker (stylised) ===== -->
  <g id="person">
    <!-- batik body -->
    <path d="M196 282L177 299L156 331L137 368L126 396L121 423H541L536 400L524 377L510 343L501 320L487 297L471 280L440 262H230Z" fill="url(#batikGray)"/>
    <path d="M300 380H470L520 405L530 423H250Z" fill="url(#batikBW)"/>
    <path d="M196 282L177 299L156 331L137 368L126 396L121 423H188L214 392L223 340L221 298Z" fill="url(#batikRed)"/>
    <path d="M221 298L250 300L262 318L238 360L216 392Z" fill="url(#batikBW)"/>
    <path d="M250 302L268 316L256 340L244 350Z" fill="url(#batikRed)"/>
    <!-- hijab -->
    <path d="M318 46C296 47 272 58 259 83C250 105 244 135 241 160C238 190 237 215 238.5 234C232 242 224 249 218 253C208 260 200 267 192 279L211 297L248 301L266 316L290 332H444L474 281C471 276 469 273 465 271C455 263 448 256 442 248C431 237 423 227 419 215C412 203 409 190 407 177C405 160 403 146 400 131C397 116 394 105 389 94C383 80 374 69 362 61C349 52 334 46 318 46Z" fill="url(#hijabG)"/>
    <ellipse cx="262" cy="281" rx="46" ry="13" transform="rotate(14 262 281)" fill="#3c3c45" opacity=".4" filter="url(#soft)"/>
    <path d="M236 262C262 270 290 290 300 312" stroke="#34343b" stroke-width="3" fill="none" opacity=".7"/>
    <path d="M250 282C280 284 300 296 312 312" stroke="#2b2b31" stroke-width="4" fill="none" opacity=".7"/>
    <!-- neck / collar -->
    
    <path d="M322 260.5h20l-2 4.5h-16z" fill="#cfcac5"/>
    <!-- face -->
    <path d="M266 116C280 92 300 83 322 82C350 82 372 92 382 110C389 125 391 150 388.5 180C386 200 381 218 372 231C366 240 358 249 351 253C343 259 336 261 329 261C320 260 311 250 305 244C297 237 287 225 283 216C276 203 272 190 270 179C266 160 263 135 266 116Z" fill="url(#faceG)"/>
    <path d="M266 116C263 135 266 160 270 179C272 190 276 203 283 216C287 225 297 237 305 244C296 222 290 195 289 165C288 140 278 126 266 116Z" fill="#8d6a56" opacity=".5"/>
    <path d="M266 116C280 92 300 83 322 82C350 82 372 92 382 110C389 125 391 150 388.5 180C386 200 381 218 372 231C366 240 358 249 351 253C343 259 336 261 329 261C320 260 311 250 305 244C297 237 287 225 283 216C276 203 272 190 270 179C266 160 263 135 266 116Z" fill="url(#foreG)"/>
    <path d="M264 122C278 94 300 84 322 83C350 83 374 93 384 114" stroke="#15151a" stroke-width="6" fill="none" opacity=".55" filter="url(#soft)"/>
    <g filter="url(#soft2)">
    <!-- brows / eyes -->
    <path d="M273 121Q290 113 307 119" stroke="#5b4336" stroke-width="2.4" fill="none" opacity=".55"/>
    <path d="M345 118Q362 111 380 119" stroke="#5b4336" stroke-width="2.4" fill="none" opacity=".55"/>
    <ellipse cx="290" cy="144" rx="12" ry="3.6" fill="#3b2f2c" opacity=".55"/>
    <ellipse cx="361" cy="143" rx="12" ry="3.6" fill="#3b2f2c" opacity=".55"/>
    <!-- glasses -->
    <g stroke="#b89a78" stroke-width="1.3" fill="#5c5a60" fill-opacity=".46">
      <path d="M263 135q1-14 24-15q25 0 27 17q1 24-24 26q-25 1-27-28z"/>
      <path d="M338 134q2-16 27-16q24 1 24 19q-1 23-26 24q-25-1-25-27z"/>
      <path d="M314 137q11-7 24-2" fill="none" stroke-width="1.8"/>
      <path d="M389 134l5-4M263 135l-4-1" fill="none"/>
    </g>
    <!-- nose -->
    <ellipse cx="327" cy="175" rx="18" ry="16" fill="#e2c8b4" opacity=".85"/>
    <ellipse cx="318" cy="188" rx="3" ry="1.6" fill="#7a5a4a" opacity=".6"/>
    <ellipse cx="338" cy="188" rx="3" ry="1.6" fill="#7a5a4a" opacity=".6"/>
    <!-- lips -->
    <path d="M305 212Q316 202.5 329 206.5Q342 202.5 354 211Q342 216.5 329 215.5Q316 216.5 305 212Z" fill="#9d5362"/>
    <path d="M307 214Q330 244 353 213Q330 220 307 214Z" fill="#c48492"/>
    <ellipse cx="330" cy="214.5" rx="13" ry="2.2" fill="#e6d4cf"/>
    </g>
    <!-- hand / forearm -->
    <path d="M205 423L211.8 394.4L219 380L230 367.7L242.3 355.5L257 343.3L271.5 332.4C280 326 290 318 301 315C320 313 335 315 349 317C375 320 398 324 418 329C445 335 468 340 487 345C500 349 512 353 520 356C526 359 526 366 518 368L510 370C520 376 530 384 532 391C532 398 526 402 520 400L505 394C505 402 497 409 487 407L462 397C462 406 452 413 441 410.5C425 405 415 402 407 400C385 397 365 394 349 391C335 388 322 385 315 382C309 379 305 376 303 375L305.5 380L294.6 392L287.3 404L285 423Z" fill="url(#handG)"/>
    <g stroke="#a98873" stroke-width="1.5" fill="none" opacity=".7">
      <path d="M428 341Q470 355 510 370"/><path d="M420 362Q465 378 505 394"/><path d="M405 378Q435 388 462 397"/>
      <path d="M303 375Q296 360 301 340"/>
    </g>
    <g fill="#f3e6e6"><ellipse cx="519" cy="360" rx="4.2" ry="3" transform="rotate(25 519 360)"/><ellipse cx="523" cy="391" rx="4.5" ry="3.8"/><ellipse cx="492" cy="398" rx="4.5" ry="3.6"/><ellipse cx="449" cy="402" rx="4.2" ry="3.4"/></g>
  </g>

  <!-- name label -->
  <rect x="1" y="395" width="279" height="30" rx="5" fill="#3b3b3b" fill-opacity=".82"/>
  <text x="7" y="416" font-size="17.5" fill="#ffffff" textLength="266" lengthAdjust="spacingAndGlyphs">Dr. Hayati Sari Hasibuan, ST, MT</text>
  </g>
</svg>
</div>

</body>
</html>
